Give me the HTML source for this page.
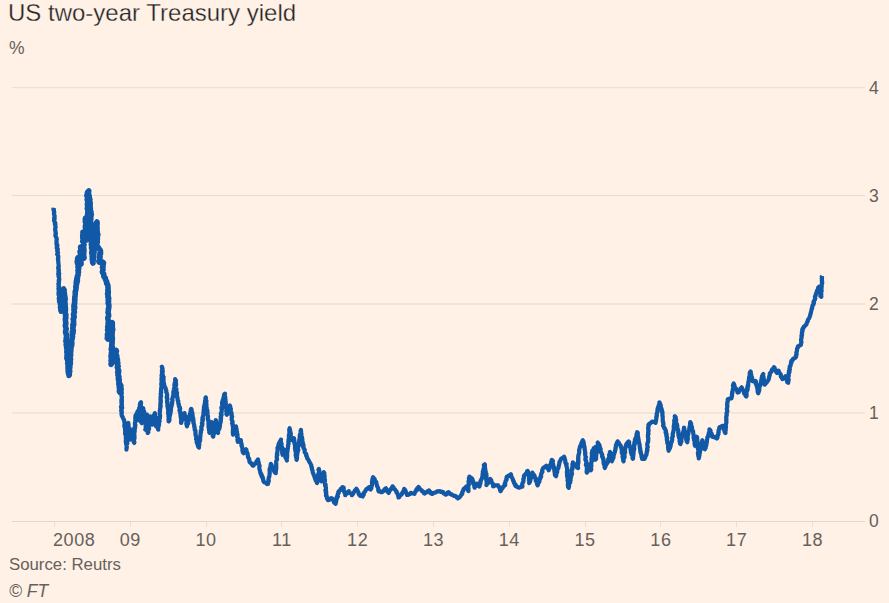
<!DOCTYPE html>
<html><head><meta charset="utf-8">
<style>
html,body{margin:0;padding:0;background:#fff1e5;}
body{width:889px;height:603px;overflow:hidden;position:relative;font-family:"Liberation Sans",sans-serif;}
.t{position:absolute;white-space:nowrap;line-height:1;}
svg{position:absolute;left:0;top:0;}
</style></head><body>
<svg width="889" height="603" viewBox="0 0 889 603">
<rect x="12" y="87" width="853" height="1" fill="#e9e2db"/>
<rect x="12" y="88" width="853" height="1" fill="#f8eee4"/>
<rect x="12" y="195" width="853" height="1" fill="#e2dcd7"/>
<rect x="12" y="303" width="853" height="1" fill="#ede4da"/>
<rect x="12" y="304" width="853" height="1" fill="#ede4da"/>
<rect x="12" y="412" width="853" height="1" fill="#efe6dc"/>
<rect x="12" y="413" width="853" height="1" fill="#efe6dc"/>
<rect x="12" y="521" width="853" height="1" fill="#e0d7d4"/>
<rect x="54" y="522" width="1" height="5" fill="#e2dfe2"/>
<rect x="130" y="522" width="1" height="5" fill="#e2dfe2"/>
<rect x="206" y="522" width="1" height="5" fill="#e2dfe2"/>
<rect x="281" y="522" width="1" height="5" fill="#e2dfe2"/>
<rect x="357" y="522" width="1" height="5" fill="#e2dfe2"/>
<rect x="433" y="522" width="1" height="5" fill="#e2dfe2"/>
<rect x="509" y="522" width="1" height="5" fill="#e2dfe2"/>
<rect x="585" y="522" width="1" height="5" fill="#e2dfe2"/>
<rect x="660" y="522" width="1" height="5" fill="#e2dfe2"/>
<rect x="736" y="522" width="1" height="5" fill="#e2dfe2"/>
<rect x="812" y="522" width="1" height="5" fill="#e2dfe2"/>

<polyline points="53.76,207.70 53.66,208.49 53.35,209.30 53.90,210.04 53.89,210.83 53.98,211.61 54.30,212.37 54.02,213.18 53.91,213.97 54.18,214.74 54.62,215.49 54.66,216.27 54.38,217.08 54.12,217.88 54.72,218.63 54.31,219.44 54.01,220.25 54.36,221.01 54.53,221.78 55.07,222.53 55.35,223.30 54.85,224.12 55.42,224.85 55.35,225.63 55.38,226.40 55.66,227.15 55.26,227.97 55.30,228.74 55.03,229.55 55.40,230.29 55.41,231.06 55.56,231.83 55.57,232.60 55.89,233.35 55.81,234.13 55.34,234.96 55.50,235.72 55.75,236.47 56.15,237.21 56.52,237.94 56.61,238.71 56.81,239.47 56.50,240.28 56.52,241.05 56.41,241.84 56.69,242.59 56.44,243.39 56.44,244.17 57.34,244.85 57.43,245.62 56.76,246.47 57.17,247.20 56.73,248.01 57.39,248.74 57.86,249.48 57.25,250.30 57.15,251.08 57.80,251.81 58.03,252.58 57.71,253.37 57.15,254.19 57.56,254.93 58.19,255.67 58.17,256.45 58.36,257.21 58.16,258.00 57.89,258.79 58.23,259.54 58.07,260.33 58.34,261.09 58.23,261.87 58.33,262.64 58.39,263.41 58.54,264.18 58.62,264.95 58.70,265.72 58.79,266.49 58.22,267.30 58.18,268.08 58.75,268.82 58.37,269.60 58.91,270.36 58.88,271.12 58.38,271.88 58.53,272.64 59.14,273.40 58.27,274.16 59.01,274.92 59.05,275.68 58.48,276.44 58.95,277.20 59.03,277.96 59.30,278.72 59.29,279.48 58.71,280.24 59.11,281.00 58.71,281.76 58.98,282.52 58.86,283.28 58.33,284.05 58.86,284.80 58.73,285.56 58.51,286.32 59.26,287.08 59.17,287.84 58.41,288.60 58.62,289.36 59.22,290.12 59.16,290.88 58.58,291.64 58.59,292.40 59.09,293.16 58.42,293.93 58.57,294.68 58.89,295.44 59.16,296.20 59.47,296.96 59.19,297.72 58.71,298.48 59.12,299.24 58.94,300.01 59.14,300.78 59.00,301.61 59.46,302.35 59.84,303.09 59.59,303.94 60.06,304.67 60.25,305.45 60.00,306.30 59.75,307.14 60.12,307.89 60.63,308.62 60.11,309.51 61.03,310.16 61.28,310.93 60.69,311.77 60.79,311.01 60.62,310.21 60.90,309.47 61.24,308.74 61.27,307.97 61.18,307.18 61.73,306.47 62.22,305.76 62.17,304.98 62.11,304.19 62.15,303.42 61.88,302.61 61.69,301.81 61.73,301.04 62.55,300.37 62.81,299.63 63.07,298.88 62.40,298.02 62.81,297.30 62.91,296.54 63.23,295.80 62.95,294.99 63.71,294.31 62.88,293.43 63.43,292.72 63.78,291.99 64.08,291.25 63.98,290.46 64.05,289.70 63.54,288.95 63.60,289.74 64.23,290.44 63.96,291.27 63.88,292.08 64.19,292.83 64.50,293.58 64.30,294.40 64.52,295.16 64.78,295.90 64.92,296.65 64.96,297.40 64.85,298.16 65.18,298.90 65.17,299.65 64.65,300.42 64.53,301.17 64.72,301.92 65.04,302.66 65.04,303.41 64.96,304.17 65.16,304.91 65.01,305.67 65.29,306.41 65.30,307.16 65.42,307.91 65.47,308.66 65.26,309.42 65.51,310.17 65.36,310.92 65.26,311.68 65.31,312.43 65.07,313.19 65.37,313.93 65.91,314.66 65.87,315.42 65.49,316.18 65.63,316.93 65.92,317.67 65.46,318.44 65.27,319.19 65.57,319.94 65.40,320.69 65.57,321.44 65.65,322.19 65.82,322.94 65.92,323.69 65.57,324.45 65.32,325.21 65.32,325.96 65.70,326.70 65.83,327.45 65.94,328.20 66.23,328.94 66.08,329.69 65.68,330.48 65.55,331.26 65.69,332.03 65.57,332.80 66.12,333.55 66.46,334.31 66.25,335.09 66.39,335.86 66.52,336.62 66.35,337.40 66.13,338.19 66.28,338.95 66.53,339.71 65.95,340.51 65.82,341.29 66.50,342.03 66.96,342.78 66.93,343.56 66.21,344.36 66.96,345.10 66.36,345.90 66.60,346.66 66.72,347.43 66.59,348.21 67.24,348.95 67.04,349.73 67.02,350.51 66.99,351.28 66.75,352.06 67.24,352.81 67.38,353.56 67.16,354.34 66.99,355.11 67.06,355.87 67.00,356.64 66.96,357.40 66.85,358.17 67.02,358.92 67.57,359.63 67.69,360.38 67.83,361.13 68.17,361.86 67.97,362.64 67.65,363.43 68.02,364.16 68.25,364.90 68.22,365.66 67.97,366.45 68.05,367.20 68.11,367.96 68.02,368.73 68.35,369.46 68.20,370.23 68.04,371.01 68.81,371.70 68.34,372.50 68.37,373.26 69.05,373.96 68.96,374.73 69.01,375.51 69.39,374.77 68.97,373.97 69.13,373.22 69.55,372.48 69.56,371.72 69.77,370.97 69.30,370.17 69.54,369.42 69.09,368.62 69.75,367.90 69.92,367.15 69.78,366.37 69.89,365.61 69.44,364.81 70.27,364.11 70.42,363.36 70.40,362.59 70.05,361.80 70.27,361.05 69.99,360.26 70.61,359.54 70.49,358.76 70.00,357.96 69.92,357.19 70.34,356.45 70.57,355.70 70.70,354.95 70.35,354.16 70.37,353.39 70.70,352.65 70.55,351.87 70.83,351.13 70.53,350.34 70.94,349.60 70.96,348.83 70.63,348.03 70.94,347.28 71.36,346.55 71.63,345.81 71.66,345.04 71.86,344.28 71.70,343.50 71.95,342.75 71.48,341.93 71.37,341.14 71.77,340.41 71.71,339.63 72.15,338.90 72.24,338.14 72.18,337.36 72.57,336.63 72.39,335.83 72.16,335.04 72.29,334.28 72.92,333.57 73.06,332.81 72.35,331.96 73.17,331.27 73.34,330.52 72.94,329.70 72.99,328.95 72.68,328.18 73.08,327.46 73.11,326.71 73.19,325.96 72.75,325.18 73.74,324.49 73.29,323.71 73.27,322.96 73.71,322.24 73.50,321.47 73.50,320.72 73.67,319.98 73.12,319.19 73.66,318.47 73.65,317.72 74.27,317.01 74.19,316.25 73.57,315.46 73.79,314.73 73.51,313.96 73.94,313.23 74.40,312.51 74.49,311.76 74.06,310.98 73.92,310.22 73.90,309.47 74.44,308.75 74.71,308.02 74.00,307.22 74.63,306.51 73.90,305.71 74.14,304.97 74.31,304.21 74.76,303.47 74.47,302.68 74.63,301.92 74.77,301.15 74.59,300.37 74.95,299.62 74.67,298.82 74.92,298.07 74.75,297.28 74.94,296.52 75.18,295.77 75.14,294.99 75.18,294.22 75.34,293.46 75.21,292.68 75.11,291.89 75.51,291.15 75.76,290.40 75.73,289.62 76.02,288.87 75.98,288.09 76.19,287.33 75.71,286.53 76.13,285.78 76.35,285.07 76.61,284.32 76.12,283.44 76.22,282.66 77.08,282.04 76.45,281.12 77.46,280.52 77.38,279.71 76.77,278.80 77.13,278.08 77.61,277.38 77.28,276.52 77.56,275.78 78.13,275.10 78.14,274.31 78.21,273.53 78.07,272.71 78.56,272.00 78.23,271.24 77.94,270.48 78.34,269.67 78.68,268.86 78.76,268.07 77.97,267.35 78.02,266.56 78.31,265.76 78.04,265.00 78.15,264.21 77.55,263.47 77.32,262.70 77.30,261.92 77.21,261.15 77.72,260.33 77.64,259.55 77.55,258.78 77.86,257.79 78.21,258.48 78.40,259.26 78.27,260.23 78.57,260.95 79.32,261.41 80.27,261.75 80.28,262.63 80.37,263.47 81.13,264.00 81.02,263.23 80.84,262.46 80.93,261.68 80.87,260.91 80.93,260.13 80.51,259.37 80.83,258.59 81.18,257.81 80.60,257.05 80.65,256.28 80.98,255.49 80.67,254.73 80.37,253.96 80.28,253.19 80.65,252.41 80.07,251.65 81.08,250.85 80.95,250.08 80.83,249.31 80.95,248.53 80.64,247.77 80.57,246.98 80.64,247.76 80.85,248.51 80.70,249.36 81.25,249.99 81.73,250.65 81.49,251.53 81.84,252.23 82.03,252.97 82.42,253.66 82.70,254.37 82.62,255.21 82.97,255.91 83.27,256.62 83.46,257.36 84.08,258.00 84.07,257.23 83.75,256.48 83.60,255.72 83.79,254.94 83.46,254.19 83.52,253.42 83.86,252.64 83.92,251.88 83.54,251.13 84.03,250.34 83.95,249.58 83.53,248.83 83.74,248.05 83.69,247.29 83.60,246.53 83.42,245.77 84.02,244.98 83.68,244.23 83.68,243.46 83.72,242.69 83.95,241.92 82.78,241.20 83.46,240.41 83.56,239.64 82.98,238.89 83.08,238.12 82.68,237.37 82.84,236.60 82.95,235.83 82.67,235.08 82.93,234.30 83.46,233.51 83.08,232.76 82.87,232.06 82.94,232.89 83.39,233.56 83.57,234.35 84.03,235.01 84.68,235.60 85.03,236.31 85.00,237.19 85.82,237.70 85.61,238.65 86.41,239.17 86.42,240.00 86.11,239.26 86.39,238.48 86.52,237.72 85.87,236.99 86.81,236.19 86.22,235.45 86.29,234.69 86.34,233.93 86.03,233.18 85.90,232.43 86.30,231.65 86.15,230.89 85.82,230.15 86.25,229.37 85.71,228.63 85.39,227.89 85.58,227.12 85.35,226.37 85.52,225.60 86.06,224.82 85.74,224.07 86.19,223.29 85.86,222.54 85.34,221.81 86.21,221.01 85.91,220.26 85.28,219.53 85.89,218.74 85.56,217.97 85.65,218.82 85.94,219.58 86.57,220.20 86.46,221.12 86.74,221.89 87.34,222.51 87.25,223.43 88.40,223.99 88.13,223.24 87.54,222.50 88.06,221.73 87.89,220.98 87.57,220.23 87.37,219.48 87.90,218.71 87.42,217.96 87.77,217.20 88.03,216.43 87.76,215.68 87.52,214.93 87.87,214.17 87.68,213.42 88.06,212.65 87.79,211.90 88.30,211.13 88.22,210.38 87.91,209.63 87.33,208.89 87.26,208.13 88.08,207.36 87.93,206.60 87.70,205.85 87.39,205.10 87.35,204.35 87.74,203.58 87.60,202.83 87.62,202.07 87.67,201.31 87.66,200.56 87.09,199.81 87.31,199.05 87.98,198.28 87.89,197.53 87.62,196.78 86.82,196.04 86.88,195.28 87.10,194.52 87.29,193.76 87.29,192.99 87.73,191.96 88.80,190.93 88.69,191.75 88.36,192.59 88.52,193.37 88.72,194.14 88.92,194.92 89.15,195.69 89.29,196.47 89.01,197.31 88.89,198.12 89.71,198.81 89.94,199.58 89.28,200.47 89.54,201.23 89.51,202.03 90.19,202.75 90.05,203.55 90.18,204.32 89.81,205.13 90.21,205.88 89.90,206.69 89.94,207.47 90.44,208.21 90.24,209.01 90.08,209.81 90.32,210.57 90.72,211.32 91.01,212.08 90.64,212.90 90.98,213.65 91.37,214.40 91.01,215.22 91.00,216.00 90.70,216.72 90.90,217.52 90.40,218.21 90.86,219.06 90.74,219.81 90.13,220.48 90.53,221.32 90.26,222.04 89.66,222.71 89.52,223.46 89.85,224.29 89.92,224.95 89.76,225.75 89.42,226.58 89.95,227.30 90.25,228.05 89.73,228.89 89.89,229.65 89.63,230.47 89.71,231.24 89.99,231.99 90.34,232.73 90.35,233.52 90.82,234.25 90.86,235.02 90.59,235.84 90.37,236.65 90.90,237.37 91.27,238.11 91.30,238.89 91.39,239.66 91.45,240.44 91.54,241.21 91.81,241.98 91.57,242.75 91.30,243.52 91.52,244.26 91.36,245.02 91.58,245.76 92.06,246.48 91.67,247.26 91.45,248.03 92.03,248.74 92.47,249.47 92.12,250.24 92.01,251.00 92.03,251.75 91.69,252.53 91.94,253.27 91.92,254.02 92.63,254.73 92.39,255.50 92.09,256.27 92.76,256.98 92.98,257.72 92.39,258.51 92.13,259.28 92.93,259.98 92.62,260.75 93.03,261.48 92.59,262.26 93.00,263.02 92.64,262.23 92.59,261.47 93.19,260.77 93.11,260.01 93.37,259.27 93.10,258.50 93.04,257.74 93.72,257.04 93.60,256.27 93.42,255.50 93.50,254.75 93.75,254.02 93.83,253.27 94.10,252.54 93.67,251.75 94.09,251.03 94.04,250.27 94.28,249.53 94.31,248.78 94.40,248.01 94.49,247.26 94.60,246.50 94.28,245.73 94.15,244.97 94.38,244.22 94.52,243.46 94.11,242.69 94.13,241.93 93.83,241.16 94.57,240.42 94.88,239.68 94.17,238.89 93.96,238.12 94.05,237.37 94.31,236.62 94.26,235.86 94.93,235.12 94.00,234.33 94.27,233.58 94.17,232.81 94.78,232.08 94.83,231.32 94.23,230.54 94.22,229.78 94.67,229.03 94.90,228.28 95.01,227.53 94.24,226.74 94.40,225.81 94.85,225.04 95.27,224.26 96.06,223.66 96.43,222.85 97.04,221.98 97.10,222.76 97.08,223.54 97.04,224.32 96.73,225.12 97.05,225.88 96.79,226.68 96.80,227.46 97.20,228.21 97.02,229.00 96.66,229.81 97.08,230.56 97.27,231.33 96.90,232.13 97.16,232.90 97.61,233.65 97.90,234.42 97.13,235.24 97.11,235.96 97.50,236.78 97.33,237.54 97.25,238.31 97.45,239.10 96.54,239.79 96.86,240.60 97.29,241.42 97.42,242.21 96.85,242.93 96.81,243.70 96.32,244.43 96.35,245.21 96.50,246.00 97.36,246.28 97.88,246.91 98.39,247.54 98.71,248.37 99.23,248.98 99.84,249.51 100.00,249.95 100.51,250.76 100.36,251.50 100.58,252.29 100.00,252.98 100.52,253.80 99.81,254.48 99.52,255.21 99.46,255.96 100.12,256.79 100.00,257.53 99.43,258.23 99.90,259.04 99.53,259.76 99.40,260.50 98.81,261.20 99.20,262.16 99.96,262.39 100.72,261.83 101.48,262.30 102.24,261.93 102.54,261.98 103.42,262.79 102.54,263.52 103.22,264.32 102.80,265.07 102.81,265.85 103.10,266.63 102.41,267.37 102.92,268.17 102.93,268.94 103.07,269.71 102.76,270.47 102.50,271.23 102.38,272.05 102.84,272.70 103.13,273.42 103.71,274.02 103.78,274.83 103.78,275.68 103.85,276.47 104.30,277.11 105.04,277.64 105.44,278.30 105.31,279.16 105.71,279.82 106.00,280.51 106.18,281.26 106.79,281.83 106.62,282.71 106.57,283.54 107.33,284.06 107.57,284.78 107.91,285.50 108.01,286.27 107.86,287.05 108.04,287.82 108.11,288.59 108.07,289.37 107.81,290.15 108.21,290.91 108.36,291.68 107.80,292.47 108.24,293.23 107.56,294.03 108.03,294.79 107.90,295.57 108.31,296.33 107.90,297.12 108.69,297.87 108.68,298.64 108.60,299.42 108.07,300.21 108.25,300.98 108.64,301.75 108.30,302.53 108.10,303.31 108.56,304.07 108.87,304.84 108.84,305.61 108.93,306.41 108.76,307.16 108.79,307.92 108.41,308.67 108.26,309.43 108.45,310.19 108.29,310.95 108.12,311.70 108.01,312.46 108.29,313.22 108.51,313.99 108.46,314.74 108.72,315.51 108.57,316.26 108.15,317.01 107.79,317.76 107.82,318.52 107.98,319.28 108.06,320.04 108.57,320.81 108.48,321.57 108.35,322.33 108.05,323.08 108.45,323.84 108.33,324.60 108.11,325.35 107.80,326.11 107.68,326.86 107.87,327.62 108.35,328.39 107.80,329.14 107.54,329.89 107.87,330.66 108.11,331.42 107.97,332.18 108.32,332.94 107.72,333.69 107.34,334.44 107.83,335.21 107.62,335.96 107.45,336.72 108.17,337.49 107.30,338.23 107.95,339.04 107.66,338.16 107.75,337.38 108.16,336.70 108.74,336.07 109.02,335.34 108.96,334.53 109.64,333.92 109.34,333.03 109.55,332.29 109.71,331.54 110.37,330.93 110.16,330.07 110.85,329.46 110.78,328.64 111.01,327.91 111.07,327.13 111.41,326.42 112.08,325.81 112.24,325.06 112.22,324.25 112.01,323.39 112.37,322.70 112.37,323.46 112.18,324.22 112.35,324.98 112.38,325.74 112.01,326.49 112.39,327.26 112.35,328.02 112.57,328.79 112.77,329.55 112.64,330.31 111.86,331.05 111.62,331.81 111.87,332.57 112.25,333.34 111.99,334.10 111.81,334.85 112.12,335.62 111.98,336.38 111.70,337.13 112.44,337.91 112.37,338.67 112.04,339.42 112.32,340.19 112.09,340.94 111.84,341.70 112.24,342.47 111.86,343.22 112.11,343.99 111.75,344.74 112.00,345.51 111.61,346.26 112.31,347.03 111.55,347.78 112.11,348.55 111.17,349.29 111.57,350.06 111.70,350.82 111.72,351.58 111.46,352.34 111.36,353.09 111.27,353.85 111.31,354.61 111.46,355.38 110.96,356.13 111.09,356.89 111.16,357.65 111.56,358.42 111.48,359.18 111.24,359.94 111.03,360.69 111.35,361.46 111.36,362.22 111.25,362.98 111.05,363.73 111.00,364.40 111.31,363.69 112.12,363.14 112.40,362.41 112.46,361.62 112.71,360.88 112.77,360.08 112.96,359.33 112.99,358.52 113.03,357.72 113.54,357.07 113.95,356.39 114.12,355.63 114.03,354.78 114.77,354.21 114.99,353.47 114.92,352.63 115.19,351.90 115.53,351.20 116.21,350.47 116.49,351.19 115.60,352.04 115.59,352.80 116.02,353.51 115.88,354.28 116.48,354.97 116.12,355.76 116.88,356.44 116.35,357.25 116.64,357.97 116.33,358.76 117.35,359.41 116.63,360.24 117.49,360.90 117.09,361.70 116.68,362.50 117.89,363.12 117.68,363.90 117.70,364.66 117.75,365.41 118.15,366.12 117.24,366.97 117.41,367.71 117.99,368.40 118.12,369.14 117.94,369.92 118.66,370.59 118.75,371.35 117.80,372.19 118.55,372.88 118.37,373.66 117.93,374.45 117.96,375.20 118.62,375.91 118.98,376.63 118.90,377.40 118.26,378.21 118.40,378.95 119.19,379.64 118.59,380.45 119.17,381.16 119.13,381.92 119.44,382.65 118.73,383.47 118.76,384.22 119.62,384.91 119.28,385.69 119.71,386.41 119.18,387.21 120.09,387.89 119.99,388.66 119.49,389.46 119.87,390.18 119.34,390.98 119.46,391.73 119.80,392.46 119.69,393.14 120.43,392.50 120.68,391.77 120.26,390.90 120.13,390.10 120.43,389.37 120.80,388.66 121.06,387.93 120.80,387.09 120.96,386.34 121.36,385.64 121.34,384.90 121.48,385.66 121.59,386.43 121.27,387.19 121.32,387.96 121.73,388.72 121.88,389.48 121.41,390.25 121.27,391.01 121.69,391.78 121.59,392.54 121.86,393.31 121.37,394.07 121.47,394.83 121.60,395.60 121.56,396.36 122.00,397.13 121.64,397.89 121.78,398.65 121.89,399.42 121.35,400.18 121.96,400.95 121.89,401.71 121.36,402.47 121.84,403.24 121.87,404.00 121.56,404.77 121.96,405.53 121.15,406.29 121.02,407.06 122.15,407.82 121.64,408.59 121.32,409.35 121.70,410.12 121.13,410.88 121.64,411.64 121.93,412.41 121.52,413.17 121.48,413.94 121.69,414.65 121.75,415.52 122.10,416.24 122.66,416.85 122.86,417.64 123.10,418.41 123.64,419.03 123.75,419.73 124.23,420.45 124.15,421.23 124.48,421.96 124.42,422.73 124.64,423.47 124.66,424.24 124.37,425.03 124.33,425.80 124.39,426.56 124.98,427.27 124.95,428.03 125.22,428.77 125.00,429.56 125.08,430.32 125.56,431.04 125.20,431.84 125.10,432.61 125.29,433.36 125.10,434.14 125.80,434.84 125.93,435.59 126.13,436.34 125.74,437.14 125.87,437.90 125.92,438.68 126.10,439.45 125.76,440.25 126.29,441.00 125.73,441.82 126.06,442.58 126.06,443.37 126.13,444.15 126.58,444.90 126.62,445.68 126.70,446.46 126.76,447.24 126.51,448.04 126.48,448.82 126.46,449.59 126.62,448.84 126.44,448.07 126.83,447.33 126.65,446.55 126.56,445.78 126.56,445.02 126.98,444.28 127.26,443.54 127.31,442.78 126.77,441.98 126.95,441.23 127.02,440.47 126.94,439.70 127.60,438.98 126.95,438.18 127.27,437.44 127.61,436.69 127.89,435.95 127.17,435.14 127.45,434.40 127.79,433.65 127.16,432.85 127.39,432.10 128.08,431.38 127.39,430.58 127.68,429.83 127.64,429.07 127.78,428.31 127.50,427.53 127.60,426.78 128.49,426.07 128.32,425.30 128.27,424.53 127.89,423.74 128.39,422.98 128.28,423.75 128.57,424.49 128.37,425.27 128.20,426.05 128.73,426.76 128.67,427.53 128.35,428.32 128.86,429.03 129.25,429.75 129.00,430.54 129.08,431.30 129.48,432.02 129.25,432.80 129.03,433.59 129.09,434.35 129.24,435.09 129.28,435.85 129.65,436.58 129.60,437.34 129.59,438.11 129.78,438.85 129.94,439.61 129.81,438.80 129.93,438.04 130.16,437.29 130.27,436.53 130.24,435.74 130.40,434.98 130.69,434.25 130.81,433.48 130.98,432.73 131.54,432.04 131.59,431.27 131.79,430.52 131.77,429.67 131.88,430.45 132.28,431.18 131.85,432.06 132.30,432.78 132.55,433.54 132.90,434.28 132.89,435.08 132.93,435.87 132.83,436.70 132.66,437.53 133.11,438.25 133.48,438.98 133.67,439.75 133.50,440.59 133.63,441.36 133.74,442.15 134.24,442.92 134.40,442.17 133.86,441.37 133.89,440.61 134.06,439.86 133.90,439.09 134.49,438.37 134.29,437.60 134.57,436.85 134.50,436.09 134.13,435.31 134.37,434.56 134.35,433.80 134.20,433.03 134.32,432.28 134.77,431.55 134.37,430.76 134.61,430.01 134.79,429.27 134.96,428.52 134.63,427.74 135.20,427.01 134.85,426.23 135.33,425.50 135.33,424.74 134.87,423.95 134.97,423.20 135.10,422.44 135.56,421.71 135.31,420.94 135.37,420.18 135.83,419.45 135.29,418.65 135.40,417.90 135.48,417.15 135.41,416.30 135.51,415.54 135.80,414.84 136.54,414.30 136.76,413.57 137.23,412.94 137.52,412.24 137.55,411.39 137.25,412.20 137.30,412.99 137.76,413.73 137.51,414.54 137.49,415.33 137.42,416.13 137.84,416.88 138.04,417.65 138.23,418.42 138.33,419.20 138.10,419.99 137.92,419.19 138.13,418.42 138.22,417.63 138.42,416.86 138.31,416.06 138.23,415.27 138.53,414.50 138.65,413.72 138.48,412.92 138.91,412.16 138.59,411.35 138.60,410.56 138.87,409.77 139.01,409.01 139.15,408.26 139.64,407.58 139.82,406.83 139.96,406.08 139.91,405.28 139.90,404.48 140.24,403.77 140.24,402.98 140.95,402.29 141.03,403.06 140.94,403.83 140.74,404.60 140.81,405.37 140.98,406.13 141.10,406.89 141.32,407.65 141.17,408.42 140.70,409.21 140.86,409.97 141.21,410.73 140.95,411.50 141.33,412.26 141.18,413.03 141.04,413.80 140.74,414.58 141.31,415.33 141.16,416.10 140.82,416.88 141.02,417.64 141.20,418.40 141.25,419.17 141.47,419.93 141.51,420.70 141.59,421.46 141.13,422.25 141.79,423.03 141.57,422.25 141.91,421.53 141.32,420.70 141.55,419.97 141.89,419.25 141.83,418.48 142.10,417.75 142.46,417.03 141.93,416.21 142.05,415.47 142.28,414.73 142.58,414.01 142.28,413.21 142.34,412.46 142.78,411.75 142.71,410.98 142.76,410.23 143.07,409.50 143.23,408.76 143.13,408.02 143.28,408.77 143.40,409.53 143.36,410.32 143.70,411.03 144.25,411.68 144.19,412.49 144.32,413.24 144.62,413.96 144.59,414.71 144.65,415.46 144.57,416.22 144.54,416.97 144.99,417.70 145.13,418.44 145.01,419.20 145.09,419.95 145.20,420.70 145.38,421.44 145.23,422.20 145.16,422.96 145.46,423.69 145.64,424.43 145.64,425.19 145.73,425.93 145.67,426.69 145.75,427.44 146.02,428.18 146.09,428.92 145.29,429.66 145.71,428.94 145.74,428.19 145.74,427.43 146.15,426.71 146.21,425.96 145.98,425.18 146.32,424.46 146.71,423.74 146.32,422.94 146.17,422.17 146.48,421.44 146.84,420.72 146.79,419.96 146.91,419.21 146.83,418.44 147.02,417.70 147.03,416.95 146.97,416.18 147.32,415.46 146.99,414.71 147.00,415.48 147.22,416.23 147.43,416.99 147.31,417.76 147.32,418.52 147.22,419.29 147.23,420.05 147.80,420.79 147.77,421.55 147.52,422.33 147.86,423.08 148.01,423.84 148.20,424.59 147.74,425.38 147.39,426.16 147.37,426.92 148.19,427.65 147.73,428.43 148.01,429.18 147.84,429.96 148.10,430.71 147.60,431.49 147.63,432.26 147.70,432.94 148.37,432.27 147.94,431.43 148.02,430.67 148.40,429.96 148.94,429.27 149.12,428.52 148.56,427.67 148.78,426.93 148.77,426.16 149.26,425.46 149.31,424.69 149.32,423.92 149.53,423.18 150.00,422.48 149.96,421.71 149.74,420.90 150.01,420.17 150.32,419.44 150.61,418.72 150.61,417.94 150.51,417.16 150.48,416.43 150.59,417.19 150.94,417.90 151.39,418.60 151.57,419.35 151.28,420.19 151.51,420.93 151.78,421.66 152.09,422.38 152.22,423.14 152.53,423.87 152.23,424.68 152.20,423.86 152.70,423.15 152.60,422.32 152.70,421.52 153.11,420.79 153.16,419.99 153.19,419.18 153.20,418.37 153.63,417.64 154.13,416.94 153.85,416.06 153.94,415.26 154.32,414.53 154.94,413.84 154.86,412.99 154.69,413.81 154.93,414.57 155.16,415.34 154.91,416.16 155.35,416.90 155.80,417.64 155.40,418.48 155.40,419.28 155.58,420.05 155.83,420.81 155.42,421.66 155.53,422.44 155.73,423.21 156.02,423.97 155.93,424.77 156.36,425.51 155.99,426.26 156.08,425.51 156.19,424.76 156.21,424.00 156.44,423.26 156.86,422.54 156.81,421.77 156.85,421.01 156.67,420.23 156.70,419.47 157.34,418.77 157.38,417.99 157.38,418.77 157.08,419.58 157.09,420.36 157.20,421.14 157.56,421.90 157.28,422.70 157.29,423.49 157.41,424.26 157.31,425.05 158.11,425.78 157.49,426.61 157.96,427.36 157.88,428.15 158.10,428.92 158.22,429.72 157.95,428.88 158.26,428.13 158.25,427.33 158.43,426.56 158.70,425.81 159.03,425.06 158.90,424.24 159.07,423.47 159.04,422.67 159.03,421.87 159.68,421.17 159.32,420.32 159.17,419.50 159.54,418.76 159.99,418.01 159.60,417.23 160.09,416.50 159.97,415.74 160.06,414.98 159.64,414.21 159.62,413.45 159.72,412.69 159.95,411.95 159.98,411.19 159.75,410.42 160.17,409.68 160.11,408.92 160.12,408.17 160.42,407.42 160.62,406.68 160.23,405.90 160.65,405.16 160.36,404.39 160.56,403.64 160.35,402.88 160.87,402.14 160.66,401.37 160.86,400.63 160.42,399.85 160.68,399.10 160.75,398.35 160.46,397.58 160.70,396.83 161.09,396.09 161.08,395.33 160.67,394.56 160.68,393.80 161.06,393.06 161.16,392.31 160.88,391.54 161.10,390.79 161.10,390.03 161.10,389.27 161.07,388.52 161.45,387.78 161.62,387.03 161.53,386.26 161.39,385.50 161.39,384.74 161.23,383.98 161.40,383.23 161.72,382.49 161.56,381.72 161.59,380.96 161.60,380.21 161.50,379.45 161.43,378.68 161.61,377.94 161.79,377.19 161.78,376.43 161.51,375.66 161.70,374.91 161.86,374.16 161.92,373.40 162.01,372.65 162.26,371.91 161.92,371.13 161.88,370.37 162.37,369.64 162.42,368.88 162.08,368.11 162.27,367.36 161.79,366.64 162.20,367.37 162.10,368.15 162.61,368.87 162.18,369.68 162.46,370.42 162.84,371.15 162.45,371.96 162.59,372.72 162.43,373.50 162.57,374.26 162.68,375.02 163.02,375.75 162.64,376.56 163.62,377.24 162.90,378.07 163.14,378.82 163.62,379.54 163.20,380.35 163.58,381.08 163.54,381.86 163.42,382.64 164.05,383.35 163.98,384.12 163.87,384.91 164.52,385.48 164.50,386.39 164.82,387.12 165.44,387.70 165.65,388.49 165.75,389.33 166.10,389.92 166.33,390.66 166.24,391.42 166.25,392.18 166.77,392.89 166.90,393.63 167.07,394.38 167.26,395.11 167.13,395.88 166.74,396.67 166.65,397.43 167.21,398.14 167.45,398.87 167.35,399.64 167.02,400.42 167.11,401.16 167.04,401.93 167.60,402.64 167.25,403.42 167.60,404.14 167.58,404.90 167.34,405.67 167.44,406.42 167.93,407.14 167.79,407.90 167.89,408.65 168.32,409.37 168.25,410.13 168.24,410.89 168.08,411.65 168.32,412.39 168.22,413.15 168.13,413.91 168.56,414.63 168.78,415.37 168.42,416.15 168.52,416.90 168.90,417.63 169.04,418.37 168.47,419.17 168.60,419.91 168.93,420.64 168.63,421.36 169.37,420.69 169.39,419.91 169.51,419.14 169.30,418.32 169.35,417.54 169.57,416.79 169.45,415.99 170.03,415.30 170.01,414.51 170.43,413.79 170.21,412.97 170.39,412.21 170.66,411.47 170.95,410.73 170.76,409.91 170.98,409.16 170.92,408.37 171.14,407.62 171.36,406.86 171.53,406.11 171.64,405.34 171.95,404.60 171.87,403.80 172.19,403.07 172.15,402.28 172.33,401.52 172.45,400.77 172.42,400.01 172.21,399.21 172.46,398.49 172.57,397.74 172.76,397.00 173.28,396.32 173.05,395.52 173.28,394.79 173.48,394.06 173.26,393.26 173.39,392.52 173.33,391.75 173.96,391.08 173.75,390.28 173.85,389.54 173.93,388.79 174.40,388.09 174.63,387.36 174.54,386.59 174.56,385.83 174.30,385.03 174.99,384.36 174.57,383.54 174.77,382.81 174.93,382.07 175.34,381.37 175.45,380.62 175.28,379.83 175.17,379.13 175.13,379.90 176.02,380.59 175.62,381.39 175.79,382.14 175.97,382.89 175.95,383.66 176.16,384.40 175.87,385.20 176.00,385.95 175.71,386.74 175.77,387.50 175.87,388.26 176.45,388.97 176.15,389.77 176.36,390.51 176.34,391.28 176.32,392.05 177.08,392.75 176.84,393.54 176.90,394.30 176.88,395.06 177.08,395.81 176.79,396.60 177.38,397.32 177.39,398.05 177.65,398.80 177.55,399.65 177.85,400.39 178.33,401.09 178.21,401.93 178.23,402.75 178.35,403.53 178.87,404.22 178.73,405.07 178.89,405.85 179.05,406.63 179.87,407.24 179.75,408.09 180.18,408.84 179.50,409.71 179.52,410.50 179.87,411.26 180.49,411.98 180.29,412.80 180.25,413.59 180.53,414.36 180.50,415.15 180.53,415.94 180.70,416.72 180.96,417.48 180.85,418.29 181.15,419.05 181.37,419.82 181.09,420.64 181.32,421.41 180.95,422.24 181.06,422.92 181.44,422.20 181.41,421.34 181.85,420.64 182.30,419.95 182.59,419.20 182.95,418.47 183.04,417.66 183.37,416.92 183.48,416.11 184.08,415.46 184.20,414.66 184.27,413.84 184.50,413.12 184.39,413.94 184.47,414.73 185.17,415.41 185.65,416.12 185.54,416.94 185.19,417.81 185.41,418.58 185.77,419.31 186.10,420.05 186.28,420.83 186.64,421.56 186.64,422.37 186.29,423.24 186.42,424.02 186.51,424.80 187.24,425.47 186.97,426.27 186.91,425.45 187.22,424.73 187.27,423.94 188.23,423.37 187.85,422.48 188.20,421.76 188.56,421.05 188.95,420.34 189.11,419.58 188.98,418.75 189.22,418.00 189.53,417.28 189.34,416.43 189.63,415.70 189.87,414.96 189.84,414.15 190.11,413.42 190.34,412.67 190.48,411.90 190.66,411.15 190.88,410.40 190.80,409.58 191.18,408.92 191.65,409.60 191.65,410.37 191.64,411.13 191.87,411.86 192.16,412.57 192.42,413.29 192.38,414.06 192.48,414.81 192.49,415.57 192.77,416.29 192.56,417.08 192.77,417.81 193.32,418.48 193.25,419.26 192.86,420.09 193.60,420.73 193.48,421.51 193.20,422.32 193.71,423.00 193.77,423.78 194.06,424.51 194.28,425.26 194.14,426.08 194.27,426.84 194.67,427.56 194.62,428.36 194.71,429.13 194.70,429.92 195.44,430.58 195.51,431.36 195.51,432.14 195.50,432.93 195.34,433.75 195.60,434.49 195.60,435.28 196.06,435.99 196.10,436.77 196.28,437.53 196.28,438.31 196.05,439.14 196.53,439.85 196.88,440.57 196.70,441.39 196.68,442.18 196.92,442.96 197.65,443.57 197.44,444.48 198.24,445.07 197.98,446.01 198.27,446.76 198.98,447.56 198.74,446.75 198.55,445.94 199.34,445.28 199.27,444.50 199.10,443.70 199.03,442.91 199.55,442.21 199.54,441.43 199.94,440.72 200.22,439.99 199.95,439.17 199.89,438.38 200.24,437.66 200.32,436.90 200.41,436.13 200.38,435.35 200.53,434.60 200.46,433.81 200.56,433.05 201.01,432.35 200.86,431.55 200.77,430.76 201.39,430.08 201.61,429.33 201.57,428.54 201.30,427.73 201.30,426.95 201.56,426.20 202.25,425.50 202.06,424.70 202.46,423.97 201.89,423.12 202.17,422.37 202.39,421.62 202.73,420.88 202.24,420.04 202.95,419.35 202.63,418.53 202.44,417.73 202.84,417.00 202.97,416.23 203.35,415.50 203.48,414.74 203.37,413.95 203.49,413.20 203.55,412.44 203.63,411.67 203.60,410.90 203.82,410.16 203.79,409.38 203.94,408.63 203.91,407.86 204.00,407.10 204.11,406.35 204.43,405.62 204.61,404.87 204.60,404.10 204.77,403.35 205.11,402.63 205.01,401.84 205.08,401.08 205.20,400.33 205.61,399.61 205.41,398.82 205.59,398.07 205.75,397.28 205.93,398.04 205.64,398.85 205.76,399.62 206.15,400.35 206.45,401.09 205.86,401.94 206.32,402.66 206.09,403.47 206.45,404.20 206.37,404.99 206.47,405.76 206.19,406.57 206.40,407.32 206.87,408.05 206.99,408.81 207.15,409.57 207.02,410.36 207.52,411.09 207.29,411.89 207.31,412.67 207.65,413.40 207.39,414.21 207.56,414.97 207.77,415.73 208.06,416.47 207.78,417.29 207.64,418.10 207.77,418.87 208.34,419.60 208.11,420.42 208.48,421.17 208.70,421.93 208.49,422.75 208.47,423.54 209.03,424.27 208.49,425.12 208.72,425.88 208.51,426.70 208.62,427.47 208.97,428.23 209.15,429.00 208.88,429.82 209.28,430.56 209.40,431.34 209.22,432.15 209.59,432.90 209.49,432.08 209.47,431.28 209.85,430.54 209.95,429.76 210.03,428.97 210.13,428.19 210.15,427.39 210.59,426.67 210.54,425.86 210.67,425.08 210.81,424.30 211.20,423.57 211.50,422.82 211.57,421.98 211.14,422.81 211.31,423.57 211.60,424.32 211.66,425.09 211.72,425.86 211.88,426.62 211.78,427.41 211.81,428.19 212.25,428.92 212.70,429.64 212.36,430.46 212.46,431.23 212.49,432.01 212.82,432.75 212.93,433.51 213.02,434.28 212.86,435.08 212.70,435.88 213.27,436.61 213.38,435.86 213.33,435.08 213.33,434.31 214.09,433.67 213.51,432.79 214.35,432.17 214.26,431.38 213.81,430.53 214.73,429.92 214.08,429.03 214.66,428.36 214.38,427.54 215.31,426.93 214.83,426.07 215.42,425.40 214.86,424.54 215.47,423.87 215.06,423.03 215.22,422.28 215.87,421.62 216.30,420.92 215.79,420.13 215.77,420.90 215.98,421.64 216.39,422.35 216.74,423.07 216.58,423.86 216.86,424.59 216.76,425.37 216.95,426.11 217.04,426.86 217.20,427.61 217.05,428.40 217.33,429.13 217.53,429.87 217.75,430.60 217.57,431.40 217.48,432.18 218.10,432.97 217.85,432.09 217.92,431.28 218.21,430.52 218.66,429.81 219.13,429.10 219.41,428.34 219.59,427.56 219.76,426.77 219.89,425.98 220.06,425.20 219.53,424.24 220.13,423.56 220.42,422.81 220.66,422.01 220.69,421.24 220.90,420.48 220.74,419.68 220.61,418.89 221.13,418.16 220.85,417.35 220.60,416.55 221.20,415.83 221.59,415.08 221.00,414.25 220.84,413.45 221.55,412.74 221.66,411.97 221.56,411.18 221.67,410.41 221.92,409.65 222.05,408.89 221.32,408.04 221.50,407.27 222.27,406.57 222.49,405.81 222.37,405.02 222.07,404.21 222.09,403.43 222.09,402.65 222.15,401.83 222.71,401.18 222.70,400.38 223.09,399.68 223.18,398.90 223.44,398.17 223.72,397.45 223.71,396.64 224.16,395.96 224.25,395.18 224.16,394.35 224.98,393.67 224.88,394.44 224.68,395.22 224.95,395.95 225.24,396.68 225.07,397.45 225.29,398.19 225.31,398.94 225.49,399.68 225.22,400.47 225.60,401.19 225.84,401.92 225.86,402.68 225.90,403.43 225.68,404.21 225.69,404.97 225.70,405.73 225.93,406.46 226.42,407.17 226.09,407.96 226.40,408.69 226.62,409.42 226.56,410.19 226.15,410.99 226.58,411.70 226.80,412.44 226.45,413.23 226.35,414.00 226.90,414.70 226.81,413.84 227.61,413.24 227.86,412.48 227.71,411.60 228.29,410.93 228.17,410.06 228.41,409.30 228.91,408.61 229.12,407.84 229.37,407.08 229.34,406.23 229.88,405.46 229.95,406.21 230.37,406.88 230.14,407.72 230.50,408.40 230.91,409.07 230.64,409.91 230.54,410.71 230.71,411.45 231.27,412.08 231.27,412.82 231.66,413.55 231.60,414.31 231.31,415.10 231.83,415.81 232.16,416.55 231.85,417.33 231.61,418.11 231.73,418.86 231.67,419.63 232.05,420.36 232.29,421.10 232.57,421.84 232.57,422.60 232.06,423.40 232.69,424.11 232.83,424.86 232.73,425.62 233.02,426.36 232.91,427.13 233.04,427.88 233.17,428.63 232.89,429.41 232.89,430.17 232.92,430.93 232.81,431.70 233.07,432.44 232.76,433.22 233.61,433.91 233.03,434.61 233.15,433.82 233.65,433.16 234.33,432.55 234.66,431.83 234.51,430.95 234.55,430.13 234.99,429.45 235.31,428.73 235.59,427.99 236.20,427.37 235.89,426.52 236.15,427.28 236.04,428.08 236.26,428.84 236.68,429.57 236.33,430.40 236.17,431.20 237.00,431.89 236.68,432.72 236.96,433.47 237.41,434.20 237.43,434.99 237.50,435.76 237.05,436.60 237.66,437.32 237.91,438.07 237.73,438.88 237.39,439.70 237.69,440.45 237.71,441.24 237.83,441.90 238.36,441.23 239.06,440.81 239.74,440.37 240.91,440.13 240.77,440.95 240.98,441.69 241.15,442.45 241.17,443.23 241.54,443.94 241.74,444.69 241.46,445.53 241.80,446.25 242.15,446.96 242.22,447.74 242.45,448.47 242.74,449.20 242.34,450.08 243.15,450.69 242.65,451.59 242.89,452.32 243.64,453.18 243.61,452.21 244.36,451.81 245.05,451.37 245.01,450.40 245.47,449.79 245.99,449.33 246.48,450.01 246.57,450.79 246.80,451.54 246.76,452.36 247.44,452.98 247.49,453.78 247.57,454.57 247.83,455.31 247.98,456.08 247.96,456.90 248.29,457.62 248.72,458.31 249.25,458.98 249.16,459.82 249.47,460.54 249.45,461.36 249.61,462.19 250.37,462.66 251.15,463.12 251.56,463.94 252.11,464.62 252.51,465.46 253.27,465.70 253.81,465.12 254.00,464.29 254.99,464.03 255.09,463.13 255.96,462.79 256.30,462.06 256.57,461.28 257.30,460.84 257.52,460.03 258.02,459.40 257.92,460.21 258.09,460.96 258.46,461.68 258.72,462.42 258.63,463.23 258.78,463.99 259.15,464.71 259.46,465.44 259.63,466.19 259.31,467.05 259.35,467.83 259.36,468.62 259.53,469.38 259.90,470.10 259.96,470.87 260.19,471.62 260.25,472.40 260.45,473.20 261.25,473.69 260.99,474.61 261.72,475.13 262.01,475.82 261.75,476.73 262.77,477.14 262.64,478.00 263.03,478.66 262.93,479.50 263.34,480.15 263.36,480.95 263.65,481.65 264.26,482.28 265.18,482.27 265.78,482.92 266.54,483.23 267.07,484.03 268.04,484.01 267.84,483.22 268.18,482.51 268.53,481.80 268.79,481.07 268.77,480.31 268.43,479.51 268.68,478.79 268.63,478.02 268.94,477.31 269.31,476.60 269.38,475.85 269.54,475.11 269.49,474.35 269.69,473.62 269.76,472.87 269.65,472.10 269.63,471.33 269.67,470.58 269.55,469.81 269.61,469.06 270.15,468.37 270.15,467.62 270.29,466.88 270.63,466.16 270.72,465.42 270.68,464.66 270.80,463.85 271.26,464.53 271.70,465.23 271.72,466.14 272.01,466.90 272.20,467.73 272.98,468.25 272.91,469.20 273.49,469.83 273.95,470.51 274.18,471.37 274.62,471.99 275.05,472.62 275.82,473.00 275.65,472.23 275.83,471.49 275.96,470.74 275.72,469.96 276.10,469.23 276.27,468.48 276.16,467.72 276.36,466.97 276.19,466.20 276.03,465.44 276.32,464.70 276.27,463.94 276.27,463.18 276.17,462.41 276.13,461.65 276.39,460.91 276.65,460.17 277.06,459.44 277.00,458.68 276.80,457.91 276.79,457.15 276.71,456.38 276.90,455.64 277.39,454.91 276.89,454.12 277.01,453.37 277.33,452.64 277.49,451.89 277.39,451.12 277.47,450.37 277.79,449.64 277.86,448.88 277.36,448.04 277.78,447.39 278.46,446.84 278.40,446.00 278.34,445.17 279.08,444.64 278.78,443.71 279.09,443.01 279.73,442.45 279.77,441.65 280.45,441.09 280.74,440.39 280.97,439.58 280.62,440.39 280.82,441.14 280.87,441.90 281.19,442.63 281.33,443.39 281.65,444.12 281.35,444.93 281.04,445.73 281.33,446.47 282.09,447.15 282.12,447.92 281.94,448.71 281.78,449.49 282.14,450.22 282.35,450.97 282.19,451.76 282.11,452.53 282.21,453.29 282.42,454.04 282.65,454.85 282.90,454.01 282.74,453.04 283.44,452.34 283.21,451.35 283.50,450.53 284.31,449.75 284.72,450.47 284.71,451.28 284.70,452.10 285.07,452.83 284.81,453.70 284.80,454.51 285.29,455.21 285.46,455.99 285.86,456.71 285.44,457.62 286.43,458.20 286.44,459.01 286.61,459.78 286.90,460.63 286.66,459.85 286.65,459.08 286.81,458.34 287.13,457.61 286.83,456.82 287.29,456.10 287.23,455.34 287.09,454.57 287.11,453.81 287.24,453.06 287.28,452.30 287.34,451.55 287.57,450.81 287.46,450.04 287.60,449.29 287.88,448.56 287.75,447.79 287.97,447.05 288.15,446.30 287.92,445.52 288.14,444.78 288.56,444.06 288.60,443.31 288.41,442.53 288.36,441.76 288.61,441.03 288.53,440.26 288.54,439.50 288.95,438.78 289.01,438.02 288.92,437.26 288.89,436.49 288.94,435.74 288.92,434.98 289.04,434.23 289.26,433.49 289.45,432.75 289.40,431.98 289.36,431.22 289.23,430.45 289.20,429.68 289.64,428.96 289.62,428.20 289.75,428.98 290.02,429.73 290.15,430.51 289.77,431.38 290.44,432.07 290.06,432.94 290.93,433.59 290.58,434.45 290.48,435.27 290.65,436.05 291.14,436.77 291.08,437.58 291.11,438.38 291.21,439.16 291.70,440.05 292.20,439.43 292.82,439.00 293.56,438.74 294.05,438.21 293.94,439.00 294.22,439.75 294.39,440.51 294.44,441.29 294.48,442.06 294.27,442.87 294.73,443.60 294.83,444.37 294.87,445.15 294.99,445.91 295.35,446.65 295.11,447.46 294.90,448.27 295.17,449.02 295.63,449.75 295.23,450.58 295.71,451.30 296.03,452.05 295.71,452.87 295.92,453.63 295.87,454.41 295.66,455.22 295.99,455.96 295.96,456.75 296.35,457.48 296.40,458.26 296.85,458.99 296.56,459.80 296.89,459.08 297.05,458.34 297.04,457.58 296.84,456.79 296.93,456.04 297.16,455.31 297.12,454.54 297.11,453.78 297.53,453.07 297.54,452.31 297.46,451.54 297.92,450.84 298.33,450.14 298.12,449.35 297.85,448.55 297.89,447.79 297.95,447.04 298.40,446.34 298.81,445.63 298.63,444.85 298.64,444.09 298.96,443.37 298.78,442.58 299.03,441.86 299.50,441.16 299.25,440.36 299.36,439.62 299.67,438.90 299.56,438.12 299.83,437.40 299.76,436.62 299.76,435.86 299.86,435.12 299.98,434.37 300.36,433.66 300.45,432.91 300.49,432.16 300.85,431.44 300.59,430.65 300.97,429.86 300.82,430.65 301.13,431.38 300.81,432.20 301.14,432.92 301.35,433.66 301.45,434.42 301.26,435.22 301.22,436.00 301.50,436.72 302.08,437.41 302.12,438.17 301.91,438.98 302.40,439.68 301.98,440.51 302.04,441.27 302.75,441.94 302.77,442.71 303.01,443.44 302.65,444.27 303.42,444.92 302.91,445.77 303.58,446.37 303.16,447.36 303.66,448.04 304.00,448.77 304.62,449.41 304.79,450.20 304.58,451.12 304.71,451.92 304.99,452.67 305.65,453.30 306.13,453.99 306.43,454.73 306.13,455.68 306.77,456.26 307.05,456.99 307.05,457.86 307.39,458.55 308.05,459.09 308.30,459.83 308.75,460.47 308.93,461.25 309.43,461.87 309.80,462.55 310.21,463.21 310.54,463.91 311.01,464.60 311.28,465.33 311.22,466.16 311.43,466.90 311.90,467.57 311.85,468.39 311.93,469.17 312.30,469.87 312.63,470.58 312.58,471.40 312.69,472.18 313.05,472.88 313.29,473.61 313.48,474.36 313.85,475.06 314.18,475.76 314.45,476.49 314.58,477.26 314.83,477.99 315.13,478.73 315.47,479.45 315.60,480.28 315.98,480.98 316.88,481.43 317.29,482.11 317.00,482.97 317.24,482.20 317.69,481.46 317.51,480.64 317.39,479.84 317.86,479.10 318.18,478.34 318.15,477.54 318.20,476.75 318.33,475.98 318.18,475.17 318.18,474.37 318.42,473.61 318.84,472.86 319.03,472.09 319.04,471.30 318.91,470.49 318.43,469.64 318.94,468.89 318.74,469.74 319.18,470.46 319.45,471.21 319.44,472.02 319.52,472.81 319.54,473.61 320.11,474.30 319.92,475.15 320.57,475.82 320.83,476.58 320.75,477.40 320.65,478.22 321.31,478.90 321.01,479.77 320.86,480.60 321.39,481.30 321.83,480.60 321.90,479.81 321.99,479.01 322.02,478.21 322.57,477.54 322.94,476.83 322.81,475.98 322.91,475.19 323.28,474.48 323.40,473.69 323.69,472.96 323.78,472.21 324.30,472.92 324.39,473.67 324.08,474.46 324.39,475.18 324.68,475.91 324.26,476.71 324.52,477.44 324.20,478.23 324.46,478.96 324.98,479.67 324.73,480.45 325.00,481.18 324.71,481.97 324.75,482.72 324.82,483.48 325.47,484.17 325.69,484.90 325.13,485.72 325.64,486.42 325.77,487.17 325.98,487.90 325.97,488.66 325.77,489.44 325.38,490.24 325.95,490.94 326.16,491.68 325.75,492.48 326.33,493.17 326.08,493.96 326.13,494.71 325.92,495.49 326.75,496.06 326.66,496.91 327.06,497.56 326.98,498.41 327.73,498.92 327.64,499.77 327.92,500.17 328.77,499.92 329.63,499.68 329.93,498.70 330.75,498.41 331.15,498.07 331.97,498.46 332.61,498.98 333.00,499.67 333.41,500.35 333.52,501.24 333.94,501.90 334.23,502.66 334.88,503.17 335.63,503.73 335.59,502.94 336.08,502.29 336.08,501.51 335.86,500.67 336.45,500.05 336.55,499.29 336.89,498.60 336.62,497.75 336.79,497.01 337.90,496.53 337.51,495.64 337.66,494.90 337.70,494.13 338.32,493.51 338.78,492.86 338.31,491.95 338.80,491.30 339.43,490.73 340.14,490.24 340.54,489.44 341.00,488.70 341.85,488.35 342.17,487.47 342.67,487.20 343.67,487.72 343.73,488.53 343.67,489.37 343.62,490.21 343.99,490.92 344.12,491.70 344.35,492.45 344.85,493.13 345.16,493.86 345.27,494.65 345.23,495.18 345.66,494.56 346.08,493.94 346.90,493.63 347.47,493.13 347.64,492.30 347.99,491.61 348.81,491.29 349.11,492.02 349.53,492.64 350.27,493.01 351.01,493.38 351.38,494.05 351.84,494.65 351.80,495.21 352.24,494.56 352.93,494.07 353.20,493.32 353.50,492.58 354.16,492.08 354.54,491.39 354.77,490.61 355.49,490.14 355.89,489.47 356.40,488.75 356.72,489.50 357.36,490.08 357.39,490.97 358.00,491.57 358.39,492.28 358.57,493.10 358.67,493.96 359.27,494.56 359.60,495.30 360.19,495.92 361.13,495.70 361.83,496.06 362.66,496.57 362.73,495.74 363.35,495.16 363.84,494.52 363.44,493.47 363.97,492.85 364.39,492.18 365.07,491.63 365.40,490.92 365.68,490.31 366.21,489.55 366.75,488.81 367.74,488.59 368.35,487.94 369.01,487.11 369.23,488.18 369.82,488.95 370.61,489.48 371.02,488.77 371.42,488.06 371.43,487.27 371.45,486.48 371.84,485.77 371.99,485.01 371.96,484.21 372.14,483.45 372.05,482.65 371.92,481.83 372.27,481.11 372.24,480.31 372.61,479.59 372.52,478.79 372.81,478.05 373.10,477.23 373.63,477.88 373.89,478.72 374.69,479.18 374.91,480.05 375.09,480.95 375.73,481.44 376.27,482.12 376.24,482.94 376.57,483.68 376.56,484.49 376.96,485.21 377.08,485.99 377.36,486.74 377.87,487.42 378.11,488.18 378.30,488.95 378.18,489.79 378.28,490.44 378.69,491.36 379.58,491.36 380.43,491.42 380.96,492.12 381.57,492.27 382.34,491.87 383.08,491.44 383.74,490.93 384.08,490.10 384.51,489.35 385.14,488.81 385.94,488.21 386.03,489.08 386.63,489.64 386.98,490.35 387.62,490.89 387.58,491.84 388.12,492.43 388.59,492.94 388.99,492.24 389.12,491.38 389.68,490.76 390.03,490.03 390.76,489.51 391.11,488.78 391.57,488.10 392.18,487.51 392.51,486.29 393.08,486.89 393.59,487.54 393.87,488.43 394.36,489.11 395.05,489.59 395.44,490.20 396.02,490.84 396.61,491.47 396.46,492.39 397.30,492.93 397.42,493.75 397.86,494.44 398.07,495.22 398.29,496.00 398.43,496.81 398.48,497.50 399.24,497.15 399.64,496.49 399.85,495.68 400.45,495.20 401.17,494.81 401.77,494.25 402.06,493.44 402.40,492.65 403.04,492.04 403.33,491.22 403.87,490.55 403.94,489.62 404.21,488.99 404.68,489.63 405.30,490.21 405.57,490.94 405.83,491.68 406.02,492.45 406.30,493.18 406.65,493.88 407.29,494.45 407.09,494.98 408.02,494.90 408.76,494.53 409.60,494.31 410.13,493.62 410.73,492.84 411.58,493.13 412.42,493.50 413.33,493.41 414.54,493.82 414.59,492.95 414.94,492.27 415.41,491.66 415.77,490.99 416.59,490.62 416.31,489.54 416.95,489.04 417.20,488.30 417.97,487.89 418.55,486.95 419.08,487.58 419.47,488.35 419.92,489.06 420.56,489.58 421.31,489.99 421.89,490.58 422.15,491.48 423.12,491.68 423.86,492.11 423.88,493.25 424.64,493.52 425.17,492.80 426.07,492.61 426.93,492.34 427.28,491.38 428.18,491.18 429.02,490.42 429.32,491.15 429.70,491.82 430.57,492.09 430.42,493.19 431.35,493.40 431.56,493.82 432.53,493.84 433.05,492.96 433.93,492.81 434.78,492.60 435.67,492.46 436.35,492.09 437.12,491.34 438.00,491.21 438.93,491.39 439.84,491.07 440.53,491.77 441.54,491.49 442.26,492.08 443.22,492.18 443.40,493.19 444.11,493.65 444.95,493.98 445.57,494.69 446.47,494.34 447.04,493.56 447.51,492.67 448.54,492.11 449.10,492.74 449.50,493.59 450.18,494.05 451.20,494.04 451.72,494.73 452.47,494.99 453.29,495.42 454.07,495.99 455.06,495.90 455.93,496.27 456.33,497.04 456.96,497.59 457.77,497.96 457.90,498.44 458.43,497.88 459.27,497.58 459.78,497.01 460.27,496.42 460.66,495.74 461.10,495.10 461.43,494.52 462.21,493.96 462.32,493.20 462.11,492.34 462.69,491.73 462.94,491.01 463.16,490.28 463.51,489.60 463.58,488.90 464.46,488.53 465.13,487.87 465.70,487.11 466.47,486.48 466.77,487.23 467.09,487.99 467.13,488.84 467.67,489.52 467.84,490.32 468.43,491.13 468.42,490.36 468.47,489.59 468.45,488.82 468.35,488.05 468.38,487.28 468.26,486.50 468.25,485.73 468.56,484.99 469.03,484.26 468.81,483.48 468.64,482.69 468.58,481.92 468.55,481.15 468.94,480.41 469.35,479.68 468.96,478.88 468.88,478.10 469.35,477.37 469.38,476.49 469.80,477.46 470.83,477.65 471.57,478.21 472.43,478.84 472.51,479.66 472.81,480.43 472.63,481.33 473.47,481.95 473.09,482.90 473.26,483.70 473.87,484.38 474.20,485.14 474.47,485.92 474.30,486.81 474.64,487.69 474.66,486.70 475.35,486.15 475.96,485.55 476.16,484.68 477.06,483.85 477.45,484.63 477.84,485.40 478.44,485.98 479.33,486.58 479.73,485.85 479.74,484.98 479.56,484.05 480.41,483.47 480.12,482.50 480.64,481.81 480.58,480.92 480.99,480.19 481.27,479.46 481.78,478.77 482.03,478.04 482.21,477.29 482.51,476.56 482.54,475.79 482.55,475.00 482.53,474.22 482.86,473.50 482.99,472.74 482.71,471.90 483.06,471.19 483.17,470.43 483.39,469.69 483.72,468.97 483.86,468.21 483.89,467.43 484.24,466.72 484.42,465.97 483.86,465.08 484.76,464.34 484.96,465.07 484.93,465.84 484.35,466.70 485.06,467.34 485.07,468.10 485.16,468.85 485.21,469.61 485.55,470.31 485.26,471.12 485.73,471.81 485.40,472.63 485.64,473.35 486.42,473.99 486.10,474.80 486.46,475.53 485.89,476.32 486.64,477.03 486.45,477.79 486.07,478.56 486.26,479.31 486.26,480.06 486.52,480.80 486.50,481.55 486.79,482.28 486.63,483.05 486.80,483.79 486.55,484.56 486.37,485.09 486.80,484.47 487.28,483.89 487.93,483.40 488.29,482.74 488.41,481.92 489.49,481.70 489.72,480.96 489.76,480.10 490.12,479.43 490.36,479.02 490.73,479.76 491.33,480.42 491.23,481.33 491.40,482.14 492.08,482.77 492.64,483.45 492.89,484.23 493.09,485.03 493.15,486.30 494.00,486.11 494.82,485.54 495.67,485.35 496.54,485.27 497.44,485.50 498.09,485.38 498.36,486.12 498.93,486.73 499.20,487.46 499.50,488.18 499.84,488.88 500.01,489.66 500.13,490.45 500.66,491.14 500.99,490.41 501.41,489.74 501.63,488.93 502.21,488.37 502.77,487.80 503.04,487.03 503.43,486.34 504.12,485.86 505.04,485.40 505.25,484.66 504.77,483.73 505.12,483.03 505.41,482.32 505.57,481.57 505.61,480.78 506.24,480.17 506.70,479.50 506.47,478.64 506.48,477.85 506.74,476.89 507.31,476.38 508.31,476.41 508.61,475.58 509.48,475.44 510.05,474.95 510.87,474.14 511.09,474.93 511.21,475.76 511.25,476.63 511.78,477.29 512.25,477.97 512.57,478.71 512.86,479.47 512.96,480.29 513.61,480.84 513.66,481.70 513.84,482.48 514.44,483.06 514.50,483.90 514.86,484.60 515.86,484.97 515.57,485.99 516.41,486.31 516.97,487.02 517.92,487.02 518.46,487.57 519.44,487.63 520.31,487.33 521.07,486.69 522.38,486.68 522.39,485.90 522.15,485.06 522.15,484.28 522.45,483.55 522.68,482.82 523.17,482.14 523.40,481.41 523.53,480.65 523.37,479.83 523.33,479.03 523.86,478.36 523.95,477.60 523.91,476.80 523.98,475.88 524.37,475.20 525.04,474.71 525.63,474.16 525.98,473.45 526.53,472.88 526.76,472.09 526.97,471.28 527.65,470.92 528.06,471.64 528.03,472.42 528.25,473.17 528.49,473.91 528.73,474.66 528.64,475.45 528.79,476.20 529.05,476.94 529.09,477.72 529.03,478.50 529.15,479.26 528.89,480.08 529.29,480.80 529.31,481.57 529.59,482.31 529.08,482.98 529.66,482.34 530.07,481.64 530.14,480.86 530.23,480.07 530.65,479.38 530.82,478.62 531.16,477.91 531.47,477.19 531.73,476.45 531.81,475.67 531.95,474.90 531.96,474.09 532.22,473.36 532.33,472.64 532.81,473.33 533.05,474.18 533.72,474.74 534.34,475.33 534.54,476.15 534.84,476.91 534.87,477.75 535.72,478.33 535.72,479.18 536.03,479.94 535.78,480.86 536.65,481.44 536.67,482.29 537.02,483.03 536.98,483.89 537.25,484.66 537.59,485.40 538.03,484.72 537.95,483.86 538.10,483.07 538.80,482.49 539.29,481.84 539.51,481.08 539.34,480.18 539.40,479.37 540.25,478.85 540.52,478.11 540.25,477.21 541.16,476.60 540.91,475.69 540.93,474.85 541.35,474.11 541.37,473.27 541.95,472.58 542.47,471.87 542.05,470.91 542.40,470.16 542.47,469.33 542.98,468.69 543.25,467.82 543.97,467.48 544.60,467.04 545.21,466.57 545.80,466.08 546.24,465.68 546.39,466.58 546.79,467.35 547.24,468.10 548.12,468.64 548.54,469.41 548.70,470.30 549.08,469.59 549.22,468.81 549.54,468.08 549.89,467.36 549.64,466.45 549.78,465.66 550.13,464.94 550.74,464.31 551.24,463.65 550.95,462.72 551.17,461.96 551.45,461.22 552.18,460.63 551.81,459.88 552.58,460.49 552.91,461.20 552.22,462.12 552.38,462.86 552.79,463.55 553.17,464.24 553.07,465.04 553.23,465.78 553.64,466.47 554.00,467.17 553.91,467.96 553.98,468.72 554.41,469.40 554.35,470.19 554.83,470.86 554.39,471.73 555.18,472.34 555.22,473.10 554.77,473.97 554.95,474.71 555.14,475.45 556.03,476.19 556.24,475.45 556.37,474.69 556.26,473.86 556.32,473.08 557.00,472.47 557.28,471.75 557.19,470.92 556.94,470.05 557.44,469.39 557.90,468.72 558.18,468.00 558.64,467.33 558.61,466.52 558.70,465.75 559.00,465.03 559.22,464.30 559.24,463.50 559.51,462.78 559.42,461.95 560.05,461.33 560.35,460.61 560.48,460.02 560.90,459.34 561.31,458.65 561.99,458.28 562.72,457.97 563.26,457.44 564.11,456.80 564.50,457.47 564.42,458.30 564.75,459.00 565.02,459.71 565.27,460.44 565.34,461.22 565.31,462.03 565.34,462.83 565.82,463.48 566.65,464.01 566.12,464.99 566.58,465.61 566.54,466.38 566.73,467.13 567.02,467.87 567.13,468.63 567.32,469.39 567.00,470.18 567.43,470.91 566.94,471.71 566.88,472.49 567.13,473.23 567.18,474.00 567.05,474.77 567.05,475.54 567.15,476.30 567.28,477.05 567.84,477.78 567.94,478.54 567.63,479.33 567.58,480.10 567.62,480.86 567.94,481.60 568.30,482.34 568.12,483.12 567.89,483.91 567.84,484.68 567.96,485.43 568.04,486.19 568.04,486.96 568.79,487.81 568.75,487.00 569.06,486.30 569.08,485.51 568.88,484.65 569.20,483.95 569.51,483.24 570.19,482.64 570.09,481.81 570.09,481.02 570.61,480.37 570.39,479.56 570.58,478.81 570.79,478.07 570.67,477.28 571.18,476.58 571.16,475.81 571.61,475.10 571.28,474.28 572.01,473.61 571.34,472.75 571.76,472.04 571.57,471.24 571.49,470.46 571.91,469.75 572.49,469.05 572.08,468.23 572.36,467.49 572.46,466.74 572.39,465.96 572.63,465.22 572.42,464.42 572.73,463.69 572.91,462.95 572.86,462.39 573.42,463.00 574.00,463.58 574.44,464.29 574.92,464.95 575.87,465.25 576.47,465.83 576.51,466.84 576.92,467.57 578.16,468.03 577.93,467.26 577.53,466.47 577.93,465.74 578.03,464.98 577.97,464.22 577.82,463.45 578.43,462.73 578.07,461.94 578.11,461.19 578.55,460.46 578.08,459.66 578.06,458.90 578.43,458.17 578.18,457.39 578.23,456.63 578.43,455.89 578.60,455.14 578.58,454.38 578.94,453.64 579.18,452.90 579.25,452.14 579.25,451.38 579.05,450.66 579.20,449.86 579.41,449.08 579.65,448.31 579.80,447.51 579.95,446.71 580.89,446.20 580.64,445.25 581.36,444.67 581.48,443.85 581.36,442.95 582.20,442.41 582.10,441.51 582.96,440.98 582.71,440.14 583.09,440.83 583.44,441.53 583.59,442.26 583.62,443.03 583.97,443.72 583.70,444.56 583.73,445.32 584.27,445.98 584.49,446.70 584.33,447.51 584.66,448.20 584.74,448.97 584.67,449.74 584.92,450.49 585.01,451.25 585.17,452.00 585.35,452.75 585.06,453.55 585.22,454.31 585.23,455.07 585.41,455.83 585.74,456.56 586.00,457.31 585.44,458.13 585.40,458.90 585.35,459.68 585.68,460.42 586.25,461.13 586.35,461.89 586.50,462.65 586.10,463.45 586.09,464.22 585.86,465.01 586.51,465.72 586.69,466.48 586.77,467.24 586.92,467.99 587.10,468.74 586.72,469.55 586.87,470.30 586.94,471.07 586.54,471.87 586.88,472.57 587.48,471.94 587.38,471.12 587.23,470.28 587.50,469.56 588.21,468.96 588.42,468.23 588.20,467.37 588.74,466.73 588.76,465.94 589.32,465.30 589.02,464.59 589.47,465.24 590.03,465.86 590.01,466.66 589.77,467.53 590.02,468.25 590.40,468.93 591.04,469.52 590.79,470.28 591.26,469.55 591.20,468.79 590.90,468.01 590.94,467.25 591.27,466.51 591.46,465.76 591.11,464.98 591.17,464.22 591.25,463.47 591.36,462.71 591.60,461.97 591.75,461.22 591.47,460.44 591.56,459.68 591.47,458.92 591.58,458.17 592.00,457.43 591.81,456.66 592.04,455.91 591.88,455.14 591.84,454.38 592.20,453.64 591.80,452.86 592.02,452.11 592.20,451.36 592.33,450.71 592.99,450.27 593.36,449.59 593.52,448.74 593.91,448.08 594.56,447.64 595.28,447.09 595.12,447.89 595.55,448.67 595.03,449.49 595.35,450.27 595.73,451.05 595.57,451.85 594.95,452.68 595.04,453.47 595.23,454.25 595.34,455.04 595.41,455.84 595.59,456.62 595.24,457.44 595.66,458.21 596.10,458.99 595.30,459.75 595.40,458.99 596.06,458.31 596.14,457.55 596.10,456.77 595.87,455.97 596.37,455.27 596.10,454.46 596.14,453.70 596.66,453.00 596.84,452.25 597.09,451.52 597.22,450.76 596.65,449.92 596.90,449.18 596.86,448.41 597.27,447.69 596.98,446.88 597.85,446.23 597.79,445.45 597.97,444.71 597.84,443.92 598.30,443.21 597.69,442.53 597.99,443.22 598.39,443.88 599.10,444.40 599.35,445.12 599.71,445.79 599.54,446.68 599.93,447.33 599.99,448.08 600.66,448.72 600.61,449.55 600.48,450.39 600.71,451.15 600.96,451.90 601.06,452.68 601.61,453.36 601.85,454.11 602.30,454.81 602.21,455.65 602.04,456.50 602.54,457.19 603.12,457.86 602.95,458.71 603.58,459.39 603.38,460.24 603.85,460.95 603.65,461.80 603.50,462.64 603.68,463.40 603.89,464.17 604.31,464.89 604.65,465.63 604.66,466.43 604.58,467.26 604.87,467.99 605.01,467.21 605.43,466.58 605.65,465.85 605.89,465.12 606.22,464.44 606.75,463.86 607.03,463.16 607.69,462.62 607.96,461.89 608.28,461.16 608.30,460.36 608.11,459.50 608.33,458.76 609.04,458.13 609.04,457.32 609.28,456.58 609.45,455.81 609.10,454.92 609.46,454.20 609.91,453.51 610.46,452.85 609.95,452.07 610.47,452.77 610.93,453.49 611.02,454.28 610.94,455.10 610.92,455.91 611.23,456.65 611.70,457.37 611.98,458.12 612.19,458.88 611.74,459.78 611.69,460.60 611.94,461.23 611.93,460.43 612.65,459.80 612.54,458.97 613.10,458.30 613.55,457.61 613.53,456.80 613.40,455.96 613.78,455.25 613.86,454.47 614.23,453.75 614.30,452.97 614.80,452.29 614.97,451.52 615.02,450.73 615.29,449.97 615.55,449.21 615.41,448.34 615.82,447.62 615.85,446.79 615.84,445.95 615.97,445.15 616.72,444.52 616.58,443.65 616.82,442.88 617.38,442.20 617.61,441.31 618.06,442.07 618.76,442.63 618.93,443.63 619.52,444.28 620.06,444.97 620.56,445.46 620.80,446.19 620.84,446.96 621.17,447.69 621.43,448.42 621.67,449.16 621.67,449.94 621.86,450.68 621.93,451.45 621.75,452.26 621.86,453.02 622.34,453.72 622.78,454.42 622.76,455.20 622.72,455.99 622.54,456.79 622.75,457.54 622.98,458.28 623.04,459.04 623.19,459.80 623.22,460.57 623.58,461.31 623.67,460.56 623.52,459.77 623.50,459.00 623.87,458.29 624.42,457.61 624.64,456.88 624.18,456.04 624.49,455.33 624.58,454.57 624.63,453.82 624.49,453.03 625.16,452.37 624.64,451.52 624.87,450.79 625.04,450.05 625.09,449.29 625.19,448.54 625.20,447.77 625.75,447.09 625.54,446.29 626.10,445.62 626.18,444.86 626.28,444.18 626.86,443.44 627.46,442.71 628.10,442.03 628.64,441.44 629.21,442.10 628.94,442.95 629.19,443.69 629.09,444.50 629.57,445.18 629.75,445.94 629.88,446.70 630.37,447.38 630.47,448.15 630.50,448.93 630.49,449.73 630.88,450.43 631.04,451.18 630.78,452.04 631.17,452.74 631.33,453.49 631.47,454.25 631.95,454.94 632.39,455.62 632.72,456.34 632.55,457.17 632.45,457.99 632.94,458.72 633.12,457.98 633.00,457.20 633.23,456.46 633.28,455.71 633.36,454.95 633.39,454.19 633.55,453.45 633.58,452.69 633.26,451.89 633.74,451.19 633.95,450.45 633.82,449.67 634.32,448.97 634.07,448.18 633.81,447.38 634.16,446.66 634.15,445.90 634.05,445.12 634.77,444.45 634.28,443.63 634.80,442.92 634.42,442.12 634.80,441.40 635.48,440.75 634.91,439.76 635.66,439.13 635.41,438.23 636.32,437.65 636.32,436.81 636.35,435.98 636.58,435.21 636.54,434.37 636.77,433.59 637.11,432.85 637.11,432.14 637.81,432.84 637.63,433.67 637.78,434.44 637.81,435.24 637.72,436.05 638.05,436.80 638.27,437.57 637.98,438.41 638.46,439.14 638.70,439.90 638.51,440.73 638.84,441.48 639.06,442.25 638.99,443.06 639.30,443.81 639.58,444.57 639.68,445.34 639.66,446.12 639.77,446.86 639.79,447.63 640.15,448.32 640.11,449.10 640.30,449.83 640.23,450.62 640.30,451.37 640.90,452.02 640.57,452.86 640.93,453.55 641.32,454.24 641.58,454.96 641.37,455.77 641.67,456.48 641.66,457.25 642.12,457.93 642.10,458.97 642.97,458.47 643.83,459.00 644.63,458.68 644.91,457.96 645.25,457.26 645.47,456.53 645.73,455.81 646.14,455.14 646.51,454.45 646.35,453.59 646.70,452.90 646.89,452.15 646.71,451.28 647.39,450.70 647.44,449.94 647.10,449.17 647.13,448.41 647.42,447.67 647.80,446.92 647.44,446.15 647.27,445.38 647.26,444.62 647.27,443.86 647.50,443.12 647.75,442.37 648.17,441.63 648.12,440.87 648.22,440.11 648.12,439.35 648.32,438.60 648.26,437.84 647.91,437.06 647.95,436.31 648.10,435.56 647.86,434.78 648.49,434.06 648.32,433.29 648.04,432.52 648.27,431.77 648.62,431.03 648.25,430.25 648.49,429.50 648.13,428.73 648.24,427.97 648.24,427.21 648.57,426.47 648.80,425.72 648.42,424.95 648.80,424.33 649.42,423.74 650.21,423.36 650.84,422.78 651.44,422.17 651.95,421.64 652.80,421.78 653.69,421.79 654.53,421.96 655.18,422.68 655.58,422.87 655.61,422.09 655.87,421.33 656.08,420.57 655.96,419.78 656.29,419.02 656.46,418.26 656.19,417.46 656.42,416.70 656.90,415.95 656.84,415.17 656.64,414.38 656.71,413.60 657.06,412.89 657.40,412.17 657.58,411.42 657.32,410.54 657.93,409.89 657.55,408.99 657.74,408.23 658.30,407.57 658.22,406.75 658.73,406.07 658.79,405.28 659.43,404.65 659.32,403.81 659.84,403.14 659.42,402.38 659.84,403.10 659.98,403.90 660.38,404.63 660.80,405.36 660.75,406.21 660.60,407.09 660.95,407.83 661.53,408.51 661.56,409.34 661.93,410.08 662.04,410.90 661.95,411.68 662.52,412.40 662.22,413.20 662.37,413.97 662.51,414.73 662.35,415.52 662.67,416.26 662.71,417.03 662.72,417.81 662.66,418.59 662.70,419.36 662.77,420.13 662.77,420.90 662.81,421.67 663.25,422.41 663.24,423.18 663.33,423.95 663.45,424.71 663.05,425.60 663.52,426.26 663.72,427.04 664.46,427.59 664.40,428.47 665.15,429.02 665.36,429.79 665.76,430.49 666.00,431.24 665.58,432.16 665.78,432.89 666.42,433.56 666.63,434.29 666.20,435.11 666.50,435.82 666.90,436.53 666.63,437.32 667.22,438.00 667.07,438.78 666.77,439.58 667.01,440.30 667.44,441.00 667.27,441.78 667.21,442.55 667.48,443.27 667.73,444.00 668.11,444.70 668.27,445.44 668.20,446.20 668.04,446.99 668.12,447.73 668.28,448.47 668.28,449.23 668.41,449.97 668.68,450.73 668.89,450.00 669.34,449.35 669.49,448.60 670.01,447.98 670.28,447.27 670.41,446.51 670.61,445.77 670.76,445.02 670.82,444.24 670.85,443.44 671.23,442.77 671.64,442.11 671.81,441.39 672.08,440.65 672.18,439.88 672.22,439.11 672.13,438.32 672.18,437.55 672.54,436.82 672.91,436.10 672.72,435.29 672.62,434.50 672.81,433.75 672.93,432.99 673.18,432.25 673.43,431.50 673.56,430.74 673.70,429.98 673.74,429.21 674.04,428.48 673.69,427.65 673.75,426.88 674.04,426.15 673.82,425.34 674.42,424.64 674.12,423.83 674.35,423.08 674.40,422.31 674.32,421.52 674.16,420.72 674.52,419.99 674.87,419.26 675.16,418.52 674.84,417.71 675.52,417.02 674.79,416.28 675.23,416.98 675.80,417.66 675.76,418.45 675.74,419.24 676.24,419.92 675.95,420.76 675.90,421.56 676.09,422.30 676.16,423.08 676.68,423.76 676.89,424.51 677.17,425.24 677.27,426.00 677.24,426.79 677.12,427.59 677.55,428.28 677.56,429.06 678.00,429.75 678.18,430.49 678.45,431.21 678.22,432.03 678.26,432.80 678.30,433.57 678.67,434.27 678.42,435.10 678.68,435.82 678.98,436.54 678.87,437.33 679.62,437.97 679.71,438.72 679.60,439.52 679.69,440.28 679.48,441.09 679.90,441.79 680.64,442.42 679.94,443.33 680.46,443.99 680.42,443.20 681.07,442.55 681.14,441.78 681.46,441.07 681.32,440.25 681.28,439.46 681.62,438.74 681.75,437.99 681.89,437.23 682.10,436.49 681.99,435.68 682.18,434.94 682.22,434.16 682.51,433.44 683.06,432.77 683.21,432.02 683.41,431.28 683.70,430.56 683.74,429.78 683.74,428.99 684.05,428.28 684.02,427.52 684.10,428.30 684.44,429.03 684.31,429.85 684.44,430.62 685.05,431.30 684.85,432.14 685.40,432.83 685.41,433.62 685.55,434.39 685.74,435.15 685.87,435.92 686.18,436.66 686.15,437.46 686.44,438.20 686.11,439.06 686.51,439.78 686.48,440.59 686.64,441.35 687.33,442.18 687.34,441.41 687.42,440.66 687.67,439.93 687.85,439.20 687.77,438.41 687.69,437.63 687.69,436.86 687.68,436.09 687.95,435.37 688.20,434.65 688.20,433.88 688.37,433.14 688.55,432.41 688.52,431.63 688.86,430.93 689.20,430.22 689.39,429.49 689.17,428.68 689.37,427.94 689.49,427.20 689.65,426.46 689.83,425.72 690.19,425.02 690.25,424.26 690.08,423.46 690.16,422.71 690.30,422.05 690.60,422.75 691.07,423.41 691.11,424.17 691.10,424.95 691.07,425.73 691.68,426.36 692.01,427.05 691.86,427.86 692.04,428.59 692.18,429.32 692.25,430.08 692.77,430.76 693.11,431.48 693.17,432.24 693.17,433.01 693.34,433.75 693.43,434.51 693.66,435.24 693.89,435.97 693.66,436.79 693.49,437.59 694.05,438.26 694.34,438.98 693.96,439.82 694.53,440.50 694.70,441.24 694.51,442.04 694.77,442.77 694.48,443.59 694.82,444.30 694.95,445.05 694.98,445.78 694.79,444.94 695.70,444.33 695.48,443.49 695.94,442.78 695.52,441.90 695.95,441.19 696.10,440.42 695.94,439.60 696.31,438.87 697.03,438.22 697.21,437.46 696.61,436.62 696.83,437.37 696.85,438.12 697.05,438.87 697.32,439.61 697.30,440.37 697.23,441.13 697.27,441.89 697.56,442.63 697.78,443.37 697.83,444.13 697.60,444.91 697.55,445.67 697.84,446.41 697.69,447.18 697.71,447.94 698.01,448.67 698.10,449.43 698.37,450.16 698.54,450.91 698.60,451.67 698.05,452.47 697.86,453.25 698.18,453.98 698.07,454.75 698.30,455.49 698.37,456.25 698.82,456.97 698.79,457.73 698.77,458.51 698.81,457.73 699.11,457.00 699.06,456.20 699.43,455.49 699.22,454.66 699.60,453.94 699.71,453.18 699.96,452.44 699.66,451.59 700.02,450.87 700.55,450.19 700.26,449.34 700.77,448.65 701.27,447.97 701.15,447.15 701.41,446.42 701.64,445.67 701.75,444.91 701.52,444.07 701.82,443.34 701.89,442.56 701.82,441.76 702.12,441.03 702.48,440.28 702.47,441.10 702.55,441.91 702.96,442.61 703.16,443.37 703.80,444.01 703.68,444.87 703.59,445.72 704.08,446.40 704.43,447.12 704.65,447.88 704.99,448.61 704.79,449.33 705.09,448.61 705.67,447.96 705.52,447.15 705.47,446.35 706.12,445.72 706.40,445.00 706.30,444.19 706.39,443.43 706.82,442.74 706.61,441.91 706.96,441.21 706.99,440.43 707.03,439.66 707.22,438.92 707.34,438.16 707.44,437.40 707.83,436.71 708.32,436.03 708.29,435.24 708.63,434.54 708.83,433.80 708.79,433.01 709.25,432.33 709.44,431.59 709.39,430.80 709.67,430.08 709.47,429.38 710.03,430.01 710.59,430.63 710.43,431.52 710.55,432.31 710.94,432.99 711.63,433.57 711.40,434.48 712.15,435.03 711.85,435.97 712.35,436.71 713.15,436.97 714.07,436.91 714.70,437.55 715.49,437.81 716.40,437.79 716.80,438.45 717.39,437.82 717.55,437.08 717.39,436.26 717.36,435.48 718.02,434.86 718.41,434.18 718.49,433.42 718.28,432.59 718.73,431.93 718.51,431.09 718.62,430.35 718.95,429.65 719.64,429.04 719.27,428.17 719.54,427.17 720.51,427.29 721.29,427.02 721.81,426.20 722.53,425.80 723.03,425.79 723.14,426.54 723.45,427.24 724.00,427.87 724.35,428.56 724.09,429.40 724.29,430.13 724.36,430.88 724.66,431.58 724.88,432.30 725.53,433.03 725.22,432.25 725.32,431.50 725.56,430.76 725.67,430.01 725.70,429.26 725.79,428.51 725.59,427.74 726.07,427.02 725.94,426.26 725.54,425.47 725.59,424.72 726.03,424.00 726.22,423.25 726.36,422.51 726.22,421.74 726.40,421.00 726.26,420.23 726.14,419.47 726.42,418.74 726.25,417.97 726.20,417.21 726.33,416.46 726.59,415.73 726.80,414.99 726.66,414.22 726.47,413.45 726.68,412.71 727.15,411.99 727.23,411.24 727.31,410.49 727.03,409.71 726.78,408.94 727.04,408.20 727.13,407.45 727.34,406.71 727.40,405.96 727.04,405.18 727.20,404.44 727.30,403.69 727.14,402.92 727.47,402.19 727.82,401.46 727.85,400.71 727.65,399.94 727.86,399.02 728.65,399.06 729.36,398.75 730.06,398.43 730.79,398.17 731.45,398.28 731.61,397.52 731.80,396.76 732.03,396.01 731.87,395.21 732.09,394.46 732.01,393.67 732.41,392.94 732.15,392.13 732.50,391.39 732.77,390.64 732.94,389.88 732.78,389.08 733.24,388.36 733.40,387.60 733.28,386.81 732.97,385.99 733.02,385.21 733.35,384.47 733.72,383.54 734.06,384.25 734.33,384.99 734.40,385.83 734.74,386.54 734.84,387.37 735.36,387.98 735.94,388.57 736.38,389.22 736.89,389.85 737.30,390.52 737.17,391.46 737.69,392.08 737.64,392.56 738.74,392.32 738.82,391.40 739.57,390.92 739.81,390.11 740.49,389.59 740.44,388.58 741.18,388.09 741.71,387.34 741.99,388.08 742.21,388.85 742.63,389.52 743.19,390.11 743.75,390.71 744.09,391.41 743.97,392.35 744.06,393.19 744.41,393.89 745.08,394.43 745.84,394.93 745.60,395.92 746.22,396.50 746.59,395.80 746.57,395.03 746.60,394.26 746.36,393.46 746.45,392.71 746.55,391.95 746.97,391.26 747.03,390.50 747.63,389.83 747.06,388.97 747.70,388.31 747.27,387.47 747.51,386.74 748.19,386.09 747.81,385.26 748.23,384.56 748.31,383.80 748.27,383.03 748.31,382.27 748.42,381.49 748.85,380.77 748.84,379.98 749.20,379.24 749.14,378.44 749.02,377.63 749.29,376.88 749.70,376.16 749.90,375.40 749.64,374.56 749.79,373.79 749.68,372.98 750.07,372.26 750.64,371.42 750.83,372.15 750.69,372.97 750.78,373.72 751.21,374.40 751.11,375.20 751.47,375.90 751.33,376.70 752.02,377.32 751.56,378.21 752.01,378.88 752.46,379.55 752.54,380.31 752.50,381.21 753.25,380.72 754.00,381.47 754.75,380.86 755.60,381.08 756.09,381.76 755.89,382.62 755.66,383.48 756.53,384.08 756.66,384.85 756.52,385.69 756.76,386.44 757.27,387.12 757.27,387.93 757.35,388.72 757.84,389.41 757.82,390.22 757.58,391.08 757.71,391.85 757.89,392.62 758.33,393.28 758.36,392.49 758.78,391.78 759.04,391.04 759.23,390.28 759.34,389.51 759.23,388.68 759.38,387.91 759.41,387.11 759.59,386.35 760.20,385.69 760.05,384.85 760.90,384.25 760.97,383.47 760.77,382.60 761.42,381.93 761.15,381.04 761.16,380.22 761.53,379.49 761.68,378.71 761.70,377.89 761.94,377.13 762.00,376.32 762.51,375.62 762.79,374.87 763.26,374.06 762.70,374.92 762.87,375.66 763.36,376.35 763.21,377.15 763.73,377.83 763.48,378.64 763.61,379.39 764.08,380.08 763.90,380.88 764.38,381.57 764.63,382.30 764.58,383.08 764.86,383.80 764.81,384.68 765.06,383.82 765.80,383.33 766.36,382.70 766.94,382.09 767.42,381.40 767.86,380.69 768.43,379.97 768.63,379.17 769.00,378.42 768.98,377.57 769.22,376.78 769.37,375.97 769.79,375.24 769.81,374.40 769.76,373.45 770.33,372.92 770.68,372.25 771.29,371.74 771.73,371.12 771.71,370.22 772.11,369.58 772.82,369.13 773.15,368.45 773.70,367.90 773.99,367.21 774.67,367.77 774.58,368.72 774.69,369.58 775.76,369.94 775.71,370.88 776.07,371.60 776.47,372.31 776.90,373.00 777.78,372.45 778.38,371.69 778.65,370.72 778.78,371.54 779.12,372.26 779.28,373.07 780.03,373.62 780.60,374.25 780.86,375.01 780.73,375.94 780.87,376.75 781.78,377.23 781.89,378.06 782.43,379.09 783.04,378.36 783.81,377.85 784.63,377.40 785.45,376.34 785.03,377.38 785.91,377.82 785.95,378.65 786.22,379.38 786.90,379.91 787.10,380.67 787.01,381.56 787.37,382.24 788.23,382.83 787.85,381.99 788.34,381.26 788.58,380.50 788.69,379.72 788.43,378.90 788.19,378.09 788.24,377.30 788.41,376.53 788.74,375.78 788.74,374.99 788.62,374.19 788.62,373.40 789.21,372.67 789.49,371.91 788.92,371.06 789.38,370.32 789.89,369.59 789.41,368.75 789.69,367.99 789.85,367.25 789.74,366.35 790.53,365.75 790.71,364.95 790.74,364.09 790.92,363.29 791.54,362.64 791.21,361.66 791.35,360.85 792.10,360.31 792.85,360.01 792.95,358.94 793.57,358.48 794.34,358.20 795.09,357.89 795.57,357.26 796.13,356.71 795.81,355.89 796.13,355.18 796.58,354.49 796.67,353.74 796.30,352.92 796.48,352.19 796.79,351.47 796.97,350.74 796.99,349.98 796.97,349.21 797.16,348.48 797.78,347.82 798.05,347.10 797.88,346.49 798.59,346.16 799.17,345.51 799.98,345.41 800.78,345.11 801.02,344.37 800.99,343.59 801.24,342.85 801.50,342.10 801.15,341.29 801.06,340.51 801.06,339.73 801.31,338.99 801.36,338.22 801.65,337.49 801.65,336.71 801.39,335.91 802.04,335.21 801.77,334.41 801.80,333.64 802.12,332.91 801.87,332.10 802.50,331.41 802.64,330.65 802.19,329.82 802.67,329.15 802.78,328.25 803.55,327.84 803.68,326.97 804.31,326.45 804.91,325.91 805.46,325.34 806.05,324.80 806.52,324.17 806.65,323.34 806.90,322.62 807.31,321.97 807.76,321.33 807.78,320.52 807.98,319.79 808.36,319.12 808.94,318.54 809.28,317.86 809.53,317.14 809.85,316.46 810.03,315.71 810.22,314.98 810.35,314.21 810.80,313.53 810.76,312.72 810.95,311.96 811.16,311.22 811.32,310.46 811.57,309.72 811.69,308.95 812.15,308.28 812.00,307.43 812.29,306.71 812.54,305.97 812.67,305.20 813.48,304.62 813.57,303.84 813.94,303.14 813.45,302.20 813.74,301.46 814.10,300.73 814.55,300.04 815.01,299.35 815.25,298.59 815.15,297.73 814.90,296.83 815.29,296.12 815.70,295.42 815.70,294.59 816.01,293.85 816.17,293.07 816.93,292.48 816.75,291.51 817.12,290.73 817.45,289.94 817.97,289.22 818.00,288.32 818.31,287.53 819.05,286.75 818.60,287.64 818.88,288.38 819.06,289.13 819.57,289.82 819.15,290.70 819.32,291.46 819.82,292.15 820.38,292.83 820.63,293.57 820.38,294.42 820.51,295.19 820.35,296.02 821.34,296.73 821.09,295.94 821.00,295.17 821.40,294.42 821.00,293.63 820.77,292.84 821.25,292.10 821.65,291.36 821.58,290.58 821.57,289.81 821.24,289.02 821.50,288.27 821.59,287.50 821.66,286.74 821.75,285.98 821.68,285.20 821.74,284.43 822.08,283.69 822.19,282.92 821.89,282.13 822.19,281.38 821.80,280.59 821.86,279.82 821.92,279.05 821.73,278.27 822.06,277.52 821.78,276.74 822.30,276.00" fill="none" stroke="#1158a6" stroke-width="4.2" stroke-linejoin="round" stroke-linecap="butt"/>
<polyline points="61.03,310.16 61.28,310.93 61.24,308.74 61.27,307.97 61.18,307.18 61.73,306.47 62.22,305.76 62.17,304.98 62.11,304.19 62.15,303.42 61.88,302.61 61.69,301.81 61.73,301.04 62.55,300.37 62.81,299.63 63.07,298.88 62.40,298.02 62.81,297.30 62.91,296.54 63.23,295.80 62.95,294.99 63.71,294.31 62.88,293.43 63.43,292.72 63.78,291.99 64.08,291.25 63.98,290.46 64.05,289.70 63.54,288.95 63.60,289.74 64.23,290.44 63.96,291.27 63.88,292.08 64.19,292.83 64.50,293.58 64.30,294.40 64.52,295.16 64.78,295.90 64.92,296.65 64.96,297.40 64.85,298.16 65.18,298.90 65.17,299.65 64.65,300.42 64.53,301.17 64.72,301.92 65.04,302.66 65.04,303.41 64.96,304.17 65.16,304.91 65.01,305.67 65.29,306.41 65.30,307.16 65.42,307.91 65.47,308.66 65.26,309.42 65.51,310.17 65.36,310.92 65.26,311.68 65.31,312.43 65.07,313.19 65.37,313.93 65.91,314.66 65.87,315.42 65.49,316.18 65.63,316.93 65.92,317.67 65.46,318.44 65.27,319.19 65.57,319.94 65.40,320.69 65.57,321.44 65.65,322.19 65.82,322.94 65.92,323.69 65.57,324.45 65.32,325.21 65.32,325.96 65.70,326.70 65.83,327.45 65.94,328.20 66.23,328.94 66.08,329.69 65.68,330.48 65.55,331.26 65.69,332.03 65.57,332.80 66.12,333.55 66.46,334.31 66.25,335.09 66.39,335.86 66.52,336.62 66.35,337.40 66.13,338.19 66.28,338.95 66.53,339.71 65.95,340.51 65.82,341.29 66.50,342.03 66.96,342.78 66.93,343.56 66.21,344.36 66.96,345.10 66.36,345.90 66.60,346.66 66.72,347.43 66.59,348.21 67.24,348.95 67.04,349.73 67.02,350.51 66.99,351.28 66.75,352.06 67.24,352.81 67.38,353.56 67.16,354.34 66.99,355.11 67.06,355.87 67.00,356.64 66.96,357.40 66.85,358.17 67.02,358.92 67.57,359.63 67.69,360.38 67.83,361.13 68.17,361.86 67.97,362.64 67.65,363.43 68.02,364.16 68.25,364.90 68.22,365.66 67.97,366.45 68.05,367.20 68.11,367.96 68.02,368.73 68.35,369.46 68.20,370.23 68.04,371.01 68.81,371.70 68.34,372.50 68.37,373.26 69.05,373.96 68.96,374.73 69.01,375.51 69.39,374.77 68.97,373.97 69.13,373.22 69.55,372.48 69.56,371.72 69.77,370.97 69.30,370.17 69.54,369.42 69.09,368.62 69.75,367.90 69.92,367.15 69.78,366.37 69.89,365.61 69.44,364.81 70.27,364.11 70.42,363.36 70.40,362.59 70.05,361.80 70.27,361.05 69.99,360.26 70.61,359.54 70.49,358.76 70.00,357.96 69.92,357.19 70.34,356.45 70.57,355.70 70.70,354.95 70.35,354.16 70.37,353.39 70.70,352.65 70.55,351.87 70.83,351.13 70.53,350.34 70.94,349.60 70.96,348.83 70.63,348.03 70.94,347.28 71.36,346.55 71.63,345.81 71.66,345.04 71.86,344.28 71.70,343.50 71.95,342.75 71.48,341.93 71.37,341.14 71.77,340.41 71.71,339.63 72.15,338.90 72.24,338.14 72.18,337.36 72.57,336.63 72.39,335.83 72.16,335.04 72.29,334.28 72.92,333.57 73.06,332.81 72.35,331.96 73.17,331.27 73.34,330.52 72.94,329.70 72.99,328.95 72.68,328.18 73.08,327.46 73.11,326.71 73.19,325.96 72.75,325.18 73.74,324.49 73.29,323.71 73.27,322.96 73.71,322.24 73.50,321.47 73.50,320.72 73.67,319.98 73.12,319.19 73.66,318.47 73.65,317.72 74.27,317.01 74.19,316.25 73.57,315.46 73.79,314.73 73.51,313.96 73.94,313.23 74.40,312.51 74.49,311.76 74.06,310.98 73.92,310.22 73.90,309.47 74.44,308.75 74.71,308.02 74.00,307.22 74.63,306.51 73.90,305.71 74.14,304.97 74.31,304.21 74.76,303.47 74.47,302.68 74.63,301.92 74.77,301.15 74.59,300.37 74.95,299.62 74.67,298.82 74.92,298.07 74.75,297.28 74.94,296.52 75.18,295.77 75.14,294.99 75.18,294.22 75.34,293.46 75.21,292.68 75.11,291.89 75.51,291.15 75.76,290.40 75.73,289.62 76.02,288.87 75.98,288.09 76.19,287.33 75.71,286.53 76.13,285.78 76.35,285.07 76.61,284.32 76.12,283.44 76.22,282.66 77.08,282.04 76.45,281.12 77.46,280.52 77.38,279.71 76.77,278.80 77.13,278.08 77.61,277.38 77.28,276.52 77.56,275.78 78.13,275.10 78.14,274.31 78.21,273.53 78.07,272.71 78.56,272.00 78.23,271.24 77.94,270.48 78.34,269.67 78.68,268.86 78.76,268.07 77.97,267.35 78.02,266.56 78.31,265.76 78.04,265.00 78.15,264.21 77.55,263.47 77.32,262.70 77.30,261.92 77.21,261.15 77.72,260.33 77.64,259.55 77.55,258.78 77.86,257.79 78.21,258.48 78.40,259.26 78.27,260.23 78.57,260.95 79.32,261.41 80.27,261.75 80.28,262.63 80.37,263.47 81.13,264.00 81.02,263.23 80.84,262.46 80.93,261.68 80.87,260.91 80.93,260.13 80.51,259.37 80.83,258.59 81.18,257.81 80.60,257.05 80.65,256.28 80.98,255.49 80.67,254.73 80.37,253.96 80.28,253.19 80.65,252.41 80.07,251.65 81.08,250.85 80.95,250.08 80.83,249.31 80.95,248.53 80.64,247.77 80.57,246.98 80.64,247.76 80.85,248.51 80.70,249.36 81.25,249.99 81.73,250.65 81.49,251.53 81.84,252.23 82.03,252.97 82.42,253.66 82.70,254.37 82.62,255.21 82.97,255.91 83.27,256.62 83.46,257.36 84.08,258.00 84.07,257.23 83.75,256.48 83.60,255.72 83.79,254.94 83.46,254.19 83.52,253.42 83.86,252.64 83.92,251.88 83.54,251.13 84.03,250.34 83.95,249.58 83.53,248.83 83.74,248.05 83.69,247.29 83.60,246.53 83.42,245.77 84.02,244.98 83.68,244.23 83.68,243.46 83.72,242.69 83.95,241.92 82.78,241.20 83.46,240.41 83.56,239.64 82.98,238.89 83.08,238.12 82.68,237.37 82.84,236.60 82.95,235.83 82.67,235.08 82.93,234.30 83.46,233.51 83.08,232.76 82.87,232.06 82.94,232.89 83.39,233.56 83.57,234.35 84.03,235.01 84.68,235.60 85.03,236.31 85.00,237.19 85.82,237.70 85.61,238.65 86.41,239.17 86.42,240.00 86.11,239.26 86.39,238.48 86.52,237.72 85.87,236.99 86.81,236.19 86.22,235.45 86.29,234.69 86.34,233.93 86.03,233.18 85.90,232.43 86.30,231.65 86.15,230.89 85.82,230.15 86.25,229.37 85.71,228.63 85.39,227.89 85.58,227.12 85.35,226.37 85.52,225.60 86.06,224.82 85.74,224.07 86.19,223.29 85.86,222.54 85.34,221.81 86.21,221.01 85.91,220.26 85.28,219.53 85.89,218.74 85.56,217.97 85.65,218.82 85.94,219.58 86.57,220.20 86.46,221.12 86.74,221.89 87.34,222.51 87.25,223.43 88.40,223.99 88.13,223.24 87.54,222.50 88.06,221.73 87.89,220.98 87.57,220.23 87.37,219.48 87.90,218.71 87.42,217.96 87.77,217.20 88.03,216.43 87.76,215.68 87.52,214.93 87.87,214.17 87.68,213.42 88.06,212.65 87.79,211.90 88.30,211.13 88.22,210.38 87.91,209.63 87.33,208.89 87.26,208.13 88.08,207.36 87.93,206.60 87.70,205.85 87.39,205.10 87.35,204.35 87.74,203.58 87.60,202.83 87.62,202.07 87.67,201.31 87.66,200.56 87.09,199.81 87.31,199.05 87.98,198.28 87.89,197.53 87.62,196.78 86.82,196.04 86.88,195.28 87.10,194.52 87.29,193.76 87.29,192.99 87.73,191.96 88.80,190.93 88.69,191.75 88.36,192.59 88.52,193.37 88.72,194.14 88.92,194.92 89.15,195.69 89.29,196.47 89.01,197.31 88.89,198.12 89.71,198.81 89.94,199.58 89.28,200.47 89.54,201.23 89.51,202.03 90.19,202.75 90.05,203.55 90.18,204.32 89.81,205.13 90.21,205.88 89.90,206.69 89.94,207.47 90.44,208.21 90.24,209.01 90.08,209.81 90.32,210.57 90.72,211.32 91.01,212.08 90.64,212.90 90.98,213.65 91.37,214.40 91.01,215.22 91.00,216.00 90.70,216.72 90.90,217.52 90.40,218.21 90.86,219.06 90.74,219.81 90.13,220.48 90.53,221.32 90.26,222.04 89.66,222.71 89.52,223.46 89.85,224.29 89.92,224.95 89.76,225.75 89.42,226.58 89.95,227.30 90.25,228.05 89.73,228.89 89.89,229.65 89.63,230.47 89.71,231.24 89.99,231.99 90.34,232.73 90.35,233.52 90.82,234.25 90.86,235.02 90.59,235.84 90.37,236.65 90.90,237.37 91.27,238.11 91.30,238.89 91.39,239.66 91.45,240.44 91.54,241.21 91.81,241.98 91.57,242.75 91.30,243.52 91.52,244.26 91.36,245.02 91.58,245.76 92.06,246.48 91.67,247.26 91.45,248.03 92.03,248.74 92.47,249.47 92.12,250.24 92.01,251.00 92.03,251.75 91.69,252.53 91.94,253.27 91.92,254.02 92.63,254.73 92.39,255.50 92.09,256.27 92.76,256.98 92.98,257.72 92.39,258.51 92.13,259.28 92.93,259.98 92.62,260.75 93.03,261.48 92.59,262.26 93.00,263.02 92.64,262.23 92.59,261.47 93.19,260.77 93.11,260.01 93.37,259.27 93.10,258.50 93.04,257.74 93.72,257.04 93.60,256.27 93.42,255.50 93.50,254.75 93.75,254.02 93.83,253.27 94.10,252.54 93.67,251.75 94.09,251.03 94.04,250.27 94.28,249.53 94.31,248.78 94.40,248.01 94.49,247.26 94.60,246.50 94.28,245.73 94.15,244.97 94.38,244.22 94.52,243.46 94.11,242.69 94.13,241.93 93.83,241.16 94.57,240.42 94.88,239.68 94.17,238.89 93.96,238.12 94.05,237.37 94.31,236.62 94.26,235.86 94.93,235.12 94.00,234.33 94.27,233.58 94.17,232.81 94.78,232.08 94.83,231.32 94.23,230.54 94.22,229.78 94.67,229.03 94.90,228.28 95.01,227.53 94.24,226.74 94.40,225.81 94.85,225.04 95.27,224.26 96.06,223.66 96.43,222.85 97.04,221.98 97.10,222.76 97.08,223.54 97.04,224.32 96.73,225.12 97.05,225.88 96.79,226.68 96.80,227.46 97.20,228.21 97.02,229.00 96.66,229.81 97.08,230.56 97.27,231.33 96.90,232.13 97.16,232.90 97.61,233.65 97.90,234.42 97.13,235.24 97.11,235.96 97.50,236.78 97.33,237.54 97.25,238.31 97.45,239.10 96.54,239.79 96.86,240.60 97.29,241.42 97.42,242.21 96.85,242.93 96.81,243.70 96.32,244.43 96.35,245.21 96.50,246.00 97.36,246.28 97.88,246.91 98.39,247.54 98.71,248.37 99.23,248.98 99.84,249.51 100.00,249.95 100.51,250.76 100.36,251.50 100.58,252.29 100.00,252.98 100.52,253.80 99.81,254.48 99.52,255.21 99.46,255.96 100.12,256.79 100.00,257.53 99.43,258.23 99.90,259.04 99.53,259.76 99.40,260.50 98.81,261.20 99.20,262.16 99.96,262.39 100.72,261.83 101.48,262.30 102.24,261.93 102.54,261.98 103.42,262.79 102.54,263.52 103.22,264.32 102.80,265.07 102.81,265.85 103.10,266.63 102.41,267.37 102.92,268.17 102.93,268.94 103.07,269.71 102.76,270.47 102.50,271.23 102.38,272.05 102.84,272.70 103.13,273.42 103.71,274.02 103.78,274.83 103.78,275.68 103.85,276.47 104.30,277.11 105.04,277.64 105.44,278.30 105.31,279.16 105.71,279.82 106.00,280.51 106.18,281.26 106.79,281.83 106.62,282.71 106.57,283.54 107.33,284.06 107.57,284.78 107.91,285.50 108.01,286.27 107.86,287.05 108.04,287.82 108.11,288.59 108.07,289.37 107.81,290.15 108.21,290.91 108.36,291.68 107.80,292.47 108.24,293.23 107.56,294.03 108.03,294.79 107.90,295.57 108.31,296.33 107.90,297.12 108.69,297.87 108.68,298.64 108.60,299.42 108.07,300.21 108.25,300.98 108.64,301.75 108.30,302.53 108.10,303.31 108.56,304.07 108.87,304.84 108.84,305.61 108.93,306.41 108.76,307.16 108.79,307.92 108.41,308.67 108.26,309.43 108.45,310.19 108.29,310.95 108.12,311.70 108.01,312.46 108.29,313.22 108.51,313.99 108.46,314.74 108.72,315.51 108.57,316.26 108.15,317.01 107.79,317.76 107.82,318.52 107.98,319.28 108.06,320.04 108.57,320.81 108.48,321.57 108.35,322.33 108.05,323.08 108.45,323.84 108.33,324.60 108.11,325.35 107.80,326.11 107.68,326.86 107.87,327.62 108.35,328.39 107.80,329.14 107.54,329.89 107.87,330.66 108.11,331.42 107.97,332.18 108.32,332.94 107.72,333.69 107.34,334.44 107.83,335.21 107.62,335.96 107.45,336.72 108.17,337.49 107.30,338.23 107.95,339.04 107.66,338.16 107.75,337.38 108.16,336.70 108.74,336.07 109.02,335.34 108.96,334.53 109.64,333.92 109.34,333.03 109.55,332.29 109.71,331.54 110.37,330.93 110.16,330.07 110.85,329.46 110.78,328.64 111.01,327.91 111.07,327.13 111.41,326.42 112.08,325.81 112.24,325.06 112.22,324.25 112.01,323.39 112.37,322.70 112.37,323.46 112.18,324.22 112.35,324.98 112.38,325.74 112.01,326.49 112.39,327.26 112.35,328.02 112.57,328.79 112.77,329.55 112.64,330.31 111.86,331.05 111.62,331.81 111.87,332.57 112.25,333.34 111.99,334.10 111.81,334.85 112.12,335.62 111.98,336.38 111.70,337.13 112.44,337.91 112.37,338.67 112.04,339.42 112.32,340.19 112.09,340.94 111.84,341.70 112.24,342.47 111.86,343.22 112.11,343.99 111.75,344.74 112.00,345.51 111.61,346.26 112.31,347.03 111.55,347.78 112.11,348.55 111.17,349.29 111.57,350.06 111.70,350.82 111.72,351.58 111.46,352.34 111.36,353.09 111.27,353.85 111.31,354.61 111.46,355.38 110.96,356.13 111.09,356.89 111.16,357.65 111.56,358.42 111.48,359.18 111.24,359.94 111.03,360.69 111.35,361.46 111.36,362.22 111.25,362.98 111.05,363.73 111.00,364.40 111.31,363.69 112.12,363.14 112.40,362.41 112.46,361.62 112.71,360.88 112.77,360.08 112.96,359.33 112.99,358.52 113.03,357.72 113.54,357.07 113.95,356.39 114.12,355.63 114.03,354.78 114.77,354.21 114.99,353.47 114.92,352.63 115.19,351.90 115.53,351.20 116.21,350.47 116.49,351.19 115.60,352.04 115.59,352.80 116.02,353.51 115.88,354.28 116.48,354.97 116.12,355.76 116.88,356.44 116.35,357.25 116.64,357.97 116.33,358.76 117.35,359.41 116.63,360.24 117.49,360.90 117.09,361.70 116.68,362.50 117.89,363.12 117.68,363.90 117.70,364.66 117.75,365.41 118.15,366.12 117.24,366.97 117.41,367.71 117.99,368.40 118.12,369.14 117.94,369.92 118.66,370.59 118.75,371.35 117.80,372.19 118.55,372.88 118.37,373.66 117.93,374.45 117.96,375.20 118.62,375.91 118.98,376.63 118.90,377.40 118.26,378.21 118.40,378.95 119.19,379.64 118.59,380.45 119.17,381.16 119.13,381.92 119.44,382.65 118.73,383.47 118.76,384.22 119.62,384.91 119.28,385.69 119.71,386.41 119.18,387.21 119.99,388.66 119.49,389.46 119.87,390.18 119.34,390.98 119.46,391.73 119.80,392.46 119.69,393.14" fill="none" stroke="#1158a6" stroke-width="5.5" stroke-linejoin="round" stroke-linecap="butt"/>
</svg>
<div class="t" style="left:8px;top:1px;font-size:24px;color:#222222;-webkit-text-stroke:0.3px #fff1e5">US two-year Treasury yield</div>
<div class="t" style="left:9px;top:40px;font-size:17.5px;color:#66605c">%</div>
<div class="t" style="left:869px;top:80px;font-size:17.5px;color:#66605c">4</div>
<div class="t" style="left:869px;top:188px;font-size:17.5px;color:#66605c">3</div>
<div class="t" style="left:869px;top:296px;font-size:17.5px;color:#66605c">2</div>
<div class="t" style="left:869px;top:405px;font-size:17.5px;color:#66605c">1</div>
<div class="t" style="left:869px;top:513px;font-size:17.5px;color:#66605c">0</div>
<div class="t" style="left:53px;top:531px;font-size:18px;letter-spacing:0.6px;color:#66605c">2008</div>
<div class="t" style="left:100.3px;width:60px;text-align:center;top:531px;font-size:18px;letter-spacing:0.6px;color:#66605c">09</div>
<div class="t" style="left:176.1px;width:60px;text-align:center;top:531px;font-size:18px;letter-spacing:0.6px;color:#66605c">10</div>
<div class="t" style="left:251.9px;width:60px;text-align:center;top:531px;font-size:18px;letter-spacing:0.6px;color:#66605c">11</div>
<div class="t" style="left:327.7px;width:60px;text-align:center;top:531px;font-size:18px;letter-spacing:0.6px;color:#66605c">12</div>
<div class="t" style="left:403.5px;width:60px;text-align:center;top:531px;font-size:18px;letter-spacing:0.6px;color:#66605c">13</div>
<div class="t" style="left:479.3px;width:60px;text-align:center;top:531px;font-size:18px;letter-spacing:0.6px;color:#66605c">14</div>
<div class="t" style="left:555.1px;width:60px;text-align:center;top:531px;font-size:18px;letter-spacing:0.6px;color:#66605c">15</div>
<div class="t" style="left:630.9px;width:60px;text-align:center;top:531px;font-size:18px;letter-spacing:0.6px;color:#66605c">16</div>
<div class="t" style="left:706.7px;width:60px;text-align:center;top:531px;font-size:18px;letter-spacing:0.6px;color:#66605c">17</div>
<div class="t" style="left:782.5px;width:60px;text-align:center;top:531px;font-size:18px;letter-spacing:0.6px;color:#66605c">18</div>
<div class="t" style="left:9px;top:557px;font-size:16.8px;color:#66605c">Source: Reutrs</div>
<div class="t" style="left:9px;top:583px;font-size:17.5px;color:#66605c;font-style:italic">&copy; FT</div>
</body></html>
